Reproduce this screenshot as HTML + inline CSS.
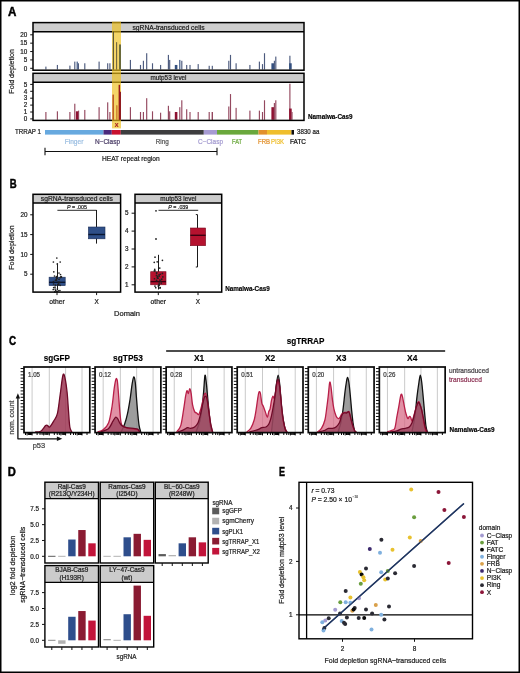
<!DOCTYPE html>
<html><head><meta charset="utf-8"><style>
html,body{margin:0;padding:0;background:#fff;width:520px;height:673px;overflow:hidden}
svg{display:block;will-change:transform}
text{font-family:"Liberation Sans", sans-serif}
</style></head><body>
<svg width="520" height="673" viewBox="0 0 520 673">
<rect x="0" y="0" width="520" height="673" fill="#fff"/>
<text x="8.10" y="15.80" font-size="12" fill="#000" text-anchor="start" font-weight="bold" textLength="8.4" lengthAdjust="spacingAndGlyphs" stroke="#000" stroke-width="0.45" >A</text>
<rect x="33.00" y="22.60" width="271.00" height="9.00" fill="#cdcdcd" stroke="none" stroke-width="1" />
<text x="168.50" y="29.90" font-size="6.8" fill="#222" text-anchor="middle" textLength="72" lengthAdjust="spacingAndGlyphs" stroke="#222" stroke-width="0.22" >sgRNA-transduced cells</text>
<rect x="45.32" y="66.62" width="1.15" height="2.88" fill="#4d5b7e" stroke="none" stroke-width="1" />
<rect x="56.82" y="64.95" width="1.15" height="4.55" fill="#4d5b7e" stroke="none" stroke-width="1" />
<rect x="69.33" y="65.62" width="1.15" height="3.88" fill="#4d5b7e" stroke="none" stroke-width="1" />
<rect x="74.22" y="61.60" width="1.15" height="7.90" fill="#4d5b7e" stroke="none" stroke-width="1" />
<rect x="76.62" y="61.60" width="1.15" height="7.90" fill="#34507f" stroke="none" stroke-width="1" />
<rect x="77.83" y="63.27" width="1.15" height="6.23" fill="#4d5b7e" stroke="none" stroke-width="1" />
<rect x="84.22" y="63.27" width="1.15" height="6.23" fill="#4d5b7e" stroke="none" stroke-width="1" />
<rect x="98.52" y="61.60" width="1.15" height="7.90" fill="#4d5b7e" stroke="none" stroke-width="1" />
<rect x="107.12" y="63.27" width="1.15" height="6.23" fill="#4d5b7e" stroke="none" stroke-width="1" />
<rect x="109.33" y="63.27" width="1.15" height="6.23" fill="#4d5b7e" stroke="none" stroke-width="1" />
<rect x="112.62" y="31.50" width="1.15" height="38.00" fill="#4d5b7e" stroke="none" stroke-width="1" />
<rect x="116.02" y="42.34" width="1.15" height="27.16" fill="#4d5b7e" stroke="none" stroke-width="1" />
<rect x="119.52" y="44.85" width="1.15" height="24.65" fill="#34507f" stroke="none" stroke-width="1" />
<rect x="129.83" y="59.92" width="1.15" height="9.58" fill="#4d5b7e" stroke="none" stroke-width="1" />
<rect x="139.93" y="64.95" width="1.15" height="4.55" fill="#4d5b7e" stroke="none" stroke-width="1" />
<rect x="142.83" y="60.76" width="1.15" height="8.74" fill="#4d5b7e" stroke="none" stroke-width="1" />
<rect x="146.12" y="53.22" width="1.15" height="16.28" fill="#4d5b7e" stroke="none" stroke-width="1" />
<rect x="151.93" y="63.27" width="1.15" height="6.23" fill="#4d5b7e" stroke="none" stroke-width="1" />
<rect x="160.03" y="64.95" width="1.15" height="4.55" fill="#4d5b7e" stroke="none" stroke-width="1" />
<rect x="167.83" y="54.90" width="1.15" height="14.60" fill="#4d5b7e" stroke="none" stroke-width="1" />
<rect x="169.12" y="59.92" width="1.15" height="9.58" fill="#4d5b7e" stroke="none" stroke-width="1" />
<rect x="174.80" y="64.95" width="2.60" height="4.55" fill="#34507f" stroke="none" stroke-width="1" />
<rect x="179.23" y="59.92" width="1.15" height="9.58" fill="#34507f" stroke="none" stroke-width="1" />
<rect x="181.23" y="60.76" width="1.15" height="8.74" fill="#4d5b7e" stroke="none" stroke-width="1" />
<rect x="186.12" y="64.95" width="1.15" height="4.55" fill="#4d5b7e" stroke="none" stroke-width="1" />
<rect x="189.43" y="64.95" width="1.15" height="4.55" fill="#4d5b7e" stroke="none" stroke-width="1" />
<rect x="197.62" y="64.11" width="1.15" height="5.39" fill="#4d5b7e" stroke="none" stroke-width="1" />
<rect x="208.62" y="65.79" width="1.15" height="3.71" fill="#4d5b7e" stroke="none" stroke-width="1" />
<rect x="211.73" y="65.79" width="1.15" height="3.71" fill="#4d5b7e" stroke="none" stroke-width="1" />
<rect x="228.23" y="60.76" width="1.15" height="8.74" fill="#4d5b7e" stroke="none" stroke-width="1" />
<rect x="229.93" y="54.90" width="1.15" height="14.60" fill="#4d5b7e" stroke="none" stroke-width="1" />
<rect x="235.53" y="63.27" width="1.15" height="6.23" fill="#4d5b7e" stroke="none" stroke-width="1" />
<rect x="249.33" y="64.95" width="1.15" height="4.55" fill="#4d5b7e" stroke="none" stroke-width="1" />
<rect x="258.82" y="61.60" width="1.15" height="7.90" fill="#4d5b7e" stroke="none" stroke-width="1" />
<rect x="261.93" y="64.11" width="1.15" height="5.39" fill="#4d5b7e" stroke="none" stroke-width="1" />
<rect x="263.93" y="53.22" width="1.15" height="16.28" fill="#4d5b7e" stroke="none" stroke-width="1" />
<rect x="271.40" y="63.27" width="2.60" height="6.23" fill="#34507f" stroke="none" stroke-width="1" />
<rect x="273.82" y="60.76" width="1.15" height="8.74" fill="#4d5b7e" stroke="none" stroke-width="1" />
<rect x="275.23" y="56.57" width="1.15" height="12.93" fill="#4d5b7e" stroke="none" stroke-width="1" />
<rect x="289.32" y="55.74" width="1.15" height="13.76" fill="#4d5b7e" stroke="none" stroke-width="1" />
<rect x="289.10" y="63.27" width="2.60" height="6.23" fill="#34507f" stroke="none" stroke-width="1" />
<rect x="33.00" y="73.30" width="271.00" height="9.00" fill="#cdcdcd" stroke="none" stroke-width="1" />
<text x="168.50" y="80.40" font-size="6.8" fill="#222" text-anchor="middle" textLength="36" lengthAdjust="spacingAndGlyphs" stroke="#222" stroke-width="0.22" >mutp53 level</text>
<rect x="45.32" y="112.00" width="1.15" height="7.80" fill="#94485f" stroke="none" stroke-width="1" />
<rect x="56.82" y="111.31" width="1.15" height="8.49" fill="#94485f" stroke="none" stroke-width="1" />
<rect x="69.33" y="112.00" width="1.15" height="7.80" fill="#94485f" stroke="none" stroke-width="1" />
<rect x="74.22" y="103.72" width="1.15" height="16.08" fill="#94485f" stroke="none" stroke-width="1" />
<rect x="75.90" y="111.31" width="2.60" height="8.49" fill="#8e1232" stroke="none" stroke-width="1" />
<rect x="78.02" y="110.62" width="1.15" height="9.18" fill="#94485f" stroke="none" stroke-width="1" />
<rect x="84.22" y="109.93" width="1.15" height="9.87" fill="#94485f" stroke="none" stroke-width="1" />
<rect x="98.52" y="107.17" width="1.15" height="12.63" fill="#94485f" stroke="none" stroke-width="1" />
<rect x="107.12" y="102.34" width="1.15" height="17.46" fill="#94485f" stroke="none" stroke-width="1" />
<rect x="109.33" y="112.00" width="1.15" height="7.80" fill="#94485f" stroke="none" stroke-width="1" />
<rect x="112.62" y="94.75" width="1.15" height="25.05" fill="#8e1232" stroke="none" stroke-width="1" />
<rect x="116.22" y="105.10" width="1.15" height="14.70" fill="#94485f" stroke="none" stroke-width="1" />
<rect x="118.62" y="84.40" width="1.15" height="35.40" fill="#8e1232" stroke="none" stroke-width="1" />
<rect x="119.62" y="91.30" width="1.15" height="28.50" fill="#8e1232" stroke="none" stroke-width="1" />
<rect x="129.83" y="107.17" width="1.15" height="12.63" fill="#94485f" stroke="none" stroke-width="1" />
<rect x="139.93" y="112.00" width="1.15" height="7.80" fill="#94485f" stroke="none" stroke-width="1" />
<rect x="142.83" y="112.00" width="1.15" height="7.80" fill="#94485f" stroke="none" stroke-width="1" />
<rect x="146.12" y="98.20" width="1.15" height="21.60" fill="#94485f" stroke="none" stroke-width="1" />
<rect x="151.93" y="111.31" width="1.15" height="8.49" fill="#94485f" stroke="none" stroke-width="1" />
<rect x="160.03" y="112.69" width="1.15" height="7.11" fill="#94485f" stroke="none" stroke-width="1" />
<rect x="167.83" y="105.79" width="1.15" height="14.01" fill="#94485f" stroke="none" stroke-width="1" />
<rect x="169.12" y="111.31" width="1.15" height="8.49" fill="#94485f" stroke="none" stroke-width="1" />
<rect x="174.80" y="112.00" width="2.60" height="7.80" fill="#8e1232" stroke="none" stroke-width="1" />
<rect x="179.23" y="107.17" width="1.15" height="12.63" fill="#94485f" stroke="none" stroke-width="1" />
<rect x="181.23" y="100.27" width="1.15" height="19.53" fill="#94485f" stroke="none" stroke-width="1" />
<rect x="186.12" y="109.24" width="1.15" height="10.56" fill="#94485f" stroke="none" stroke-width="1" />
<rect x="189.43" y="112.00" width="1.15" height="7.80" fill="#94485f" stroke="none" stroke-width="1" />
<rect x="197.62" y="112.00" width="1.15" height="7.80" fill="#94485f" stroke="none" stroke-width="1" />
<rect x="208.62" y="112.00" width="1.15" height="7.80" fill="#94485f" stroke="none" stroke-width="1" />
<rect x="211.73" y="112.00" width="1.15" height="7.80" fill="#94485f" stroke="none" stroke-width="1" />
<rect x="211.83" y="112.00" width="1.15" height="7.80" fill="#94485f" stroke="none" stroke-width="1" />
<rect x="228.23" y="106.48" width="1.15" height="13.32" fill="#94485f" stroke="none" stroke-width="1" />
<rect x="229.93" y="94.06" width="1.15" height="25.74" fill="#94485f" stroke="none" stroke-width="1" />
<rect x="235.53" y="107.86" width="1.15" height="11.94" fill="#94485f" stroke="none" stroke-width="1" />
<rect x="249.33" y="110.62" width="1.15" height="9.18" fill="#94485f" stroke="none" stroke-width="1" />
<rect x="258.82" y="110.62" width="1.15" height="9.18" fill="#94485f" stroke="none" stroke-width="1" />
<rect x="261.93" y="112.00" width="1.15" height="7.80" fill="#94485f" stroke="none" stroke-width="1" />
<rect x="263.93" y="100.27" width="1.15" height="19.53" fill="#94485f" stroke="none" stroke-width="1" />
<rect x="271.40" y="107.17" width="2.60" height="12.63" fill="#8e1232" stroke="none" stroke-width="1" />
<rect x="273.82" y="103.03" width="1.15" height="16.77" fill="#94485f" stroke="none" stroke-width="1" />
<rect x="275.23" y="100.27" width="1.15" height="19.53" fill="#94485f" stroke="none" stroke-width="1" />
<rect x="289.32" y="83.71" width="1.15" height="36.09" fill="#94485f" stroke="none" stroke-width="1" />
<rect x="289.10" y="108.55" width="2.60" height="11.25" fill="#8e1232" stroke="none" stroke-width="1" />
<rect x="291.43" y="112.00" width="1.15" height="7.80" fill="#94485f" stroke="none" stroke-width="1" />
<rect x="33.00" y="22.60" width="271.00" height="47.60" fill="none" stroke="#000" stroke-width="1.5" />
<rect x="33.00" y="73.30" width="271.00" height="47.10" fill="none" stroke="#000" stroke-width="1.5" />
<line x1="33.00" y1="31.65" x2="304.00" y2="31.65" stroke="#000" stroke-width="1.5" />
<line x1="33.00" y1="82.30" x2="304.00" y2="82.30" stroke="#000" stroke-width="1.5" />
<line x1="30.20" y1="68.30" x2="33.00" y2="68.30" stroke="#111" stroke-width="1.0" />
<text x="27.20" y="70.50" font-size="6.3" fill="#1e1e1e" text-anchor="end" stroke="#1e1e1e" stroke-width="0.22" >0</text>
<line x1="30.20" y1="59.92" x2="33.00" y2="59.92" stroke="#111" stroke-width="1.0" />
<text x="27.20" y="62.12" font-size="6.3" fill="#1e1e1e" text-anchor="end" stroke="#1e1e1e" stroke-width="0.22" >5</text>
<line x1="30.20" y1="51.55" x2="33.00" y2="51.55" stroke="#111" stroke-width="1.0" />
<text x="27.20" y="53.75" font-size="6.3" fill="#1e1e1e" text-anchor="end" stroke="#1e1e1e" stroke-width="0.22" >10</text>
<line x1="30.20" y1="43.17" x2="33.00" y2="43.17" stroke="#111" stroke-width="1.0" />
<text x="27.20" y="45.38" font-size="6.3" fill="#1e1e1e" text-anchor="end" stroke="#1e1e1e" stroke-width="0.22" >15</text>
<line x1="30.20" y1="34.80" x2="33.00" y2="34.80" stroke="#111" stroke-width="1.0" />
<text x="27.20" y="37.00" font-size="6.3" fill="#1e1e1e" text-anchor="end" stroke="#1e1e1e" stroke-width="0.22" >20</text>
<line x1="30.20" y1="118.90" x2="33.00" y2="118.90" stroke="#111" stroke-width="1.0" />
<text x="27.20" y="121.10" font-size="6.3" fill="#1e1e1e" text-anchor="end" stroke="#1e1e1e" stroke-width="0.22" >0</text>
<line x1="30.20" y1="112.00" x2="33.00" y2="112.00" stroke="#111" stroke-width="1.0" />
<text x="27.20" y="114.20" font-size="6.3" fill="#1e1e1e" text-anchor="end" stroke="#1e1e1e" stroke-width="0.22" >1</text>
<line x1="30.20" y1="105.10" x2="33.00" y2="105.10" stroke="#111" stroke-width="1.0" />
<text x="27.20" y="107.30" font-size="6.3" fill="#1e1e1e" text-anchor="end" stroke="#1e1e1e" stroke-width="0.22" >2</text>
<line x1="30.20" y1="98.20" x2="33.00" y2="98.20" stroke="#111" stroke-width="1.0" />
<text x="27.20" y="100.40" font-size="6.3" fill="#1e1e1e" text-anchor="end" stroke="#1e1e1e" stroke-width="0.22" >3</text>
<line x1="30.20" y1="91.30" x2="33.00" y2="91.30" stroke="#111" stroke-width="1.0" />
<text x="27.20" y="93.50" font-size="6.3" fill="#1e1e1e" text-anchor="end" stroke="#1e1e1e" stroke-width="0.22" >4</text>
<line x1="30.20" y1="84.40" x2="33.00" y2="84.40" stroke="#111" stroke-width="1.0" />
<text x="27.20" y="86.60" font-size="6.3" fill="#1e1e1e" text-anchor="end" stroke="#1e1e1e" stroke-width="0.22" >5</text>
<text x="14.30" y="71.40" font-size="8.0" fill="#1e1e1e" text-anchor="middle" textLength="44.5" lengthAdjust="spacingAndGlyphs" transform="rotate(-90 14.30 71.40)" stroke="#1e1e1e" stroke-width="0.22" >Fold depletion</text>
<rect x="112.00" y="21.60" width="9.00" height="106.80" fill="#efbf1a" stroke="none" stroke-width="1" fill-opacity="0.66"/>
<rect x="112.95" y="31.60" width="0.90" height="37.90" fill="#4a4a3a" stroke="none" stroke-width="1" />
<rect x="116.15" y="42.20" width="0.90" height="27.30" fill="#6a6040" stroke="none" stroke-width="1" />
<rect x="119.40" y="44.40" width="1.20" height="25.10" fill="#2f3f30" stroke="none" stroke-width="1" />
<rect x="112.70" y="94.60" width="1.00" height="25.20" fill="#b0402a" stroke="none" stroke-width="1" />
<rect x="116.45" y="105.70" width="0.90" height="14.10" fill="#d07a30" stroke="none" stroke-width="1" />
<rect x="118.75" y="85.00" width="1.30" height="34.80" fill="#9a1a22" stroke="none" stroke-width="1" />
<rect x="119.90" y="92.00" width="1.00" height="27.80" fill="#8a1020" stroke="none" stroke-width="1" />
<text x="116.50" y="127.40" font-size="5.6" fill="#a82020" text-anchor="middle" font-weight="bold" stroke="#a82020" stroke-width="0.15" >X</text>
<text x="308.00" y="119.10" font-size="6.4" fill="#000" text-anchor="start" font-weight="bold" textLength="44.5" lengthAdjust="spacingAndGlyphs" stroke="#000" stroke-width="0.15" >Namalwa-Cas9</text>
<rect x="45.00" y="130.00" width="58.50" height="4.60" fill="#67a9df" stroke="none" stroke-width="1" />
<rect x="103.50" y="130.00" width="8.30" height="4.60" fill="#4b2a7c" stroke="none" stroke-width="1" />
<rect x="111.80" y="130.00" width="9.00" height="4.60" fill="#c8102e" stroke="none" stroke-width="1" />
<rect x="120.80" y="130.00" width="83.00" height="4.60" fill="#3d3d3f" stroke="none" stroke-width="1" />
<rect x="203.80" y="130.00" width="13.20" height="4.60" fill="#a79bd3" stroke="none" stroke-width="1" />
<rect x="217.00" y="130.00" width="41.50" height="4.60" fill="#6aa83c" stroke="none" stroke-width="1" />
<rect x="258.50" y="130.00" width="8.50" height="4.60" fill="#e2902c" stroke="none" stroke-width="1" />
<rect x="267.00" y="130.00" width="24.50" height="4.60" fill="#efbe2c" stroke="none" stroke-width="1" />
<rect x="291.50" y="130.00" width="2.50" height="4.60" fill="#111" stroke="none" stroke-width="1" />
<text x="15.00" y="134.40" font-size="6.8" fill="#1e1e1e" text-anchor="start" textLength="26" lengthAdjust="spacingAndGlyphs" stroke="#1e1e1e" stroke-width="0.22" >TRRAP 1</text>
<text x="297.00" y="134.40" font-size="6.8" fill="#1e1e1e" text-anchor="start" textLength="22.4" lengthAdjust="spacingAndGlyphs" stroke="#1e1e1e" stroke-width="0.22" >3830 aa</text>
<text x="64.70" y="143.90" font-size="6.8" fill="#9cbfe2" text-anchor="start" textLength="18.700000000000003" lengthAdjust="spacingAndGlyphs" stroke="#9cbfe2" stroke-width="0.22" >Finger</text>
<text x="95.00" y="143.90" font-size="6.8" fill="#4a3c66" text-anchor="start" textLength="25" lengthAdjust="spacingAndGlyphs" stroke="#4a3c66" stroke-width="0.22" >N−Clasp</text>
<text x="155.80" y="143.90" font-size="6.8" fill="#555" text-anchor="start" textLength="13.0" lengthAdjust="spacingAndGlyphs" stroke="#555" stroke-width="0.22" >Ring</text>
<text x="198.00" y="143.90" font-size="6.8" fill="#a49bd0" text-anchor="start" textLength="25" lengthAdjust="spacingAndGlyphs" stroke="#a49bd0" stroke-width="0.22" >C−Clasp</text>
<text x="232.00" y="143.90" font-size="6.8" fill="#6aa83c" text-anchor="start" textLength="10" lengthAdjust="spacingAndGlyphs" stroke="#6aa83c" stroke-width="0.22" >FAT</text>
<text x="258.00" y="143.90" font-size="6.8" fill="#e2902c" text-anchor="start" textLength="12" lengthAdjust="spacingAndGlyphs" stroke="#e2902c" stroke-width="0.22" >FRB</text>
<text x="271.00" y="143.90" font-size="6.8" fill="#efbe2c" text-anchor="start" textLength="13" lengthAdjust="spacingAndGlyphs" stroke="#efbe2c" stroke-width="0.22" >PI3K</text>
<text x="290.00" y="143.90" font-size="6.8" fill="#111" text-anchor="start" textLength="16" lengthAdjust="spacingAndGlyphs" stroke="#111" stroke-width="0.22" >FATC</text>
<line x1="45.00" y1="151.50" x2="217.00" y2="151.50" stroke="#111" stroke-width="1.1" />
<line x1="45.00" y1="147.80" x2="45.00" y2="155.20" stroke="#111" stroke-width="1.1" />
<line x1="217.00" y1="147.80" x2="217.00" y2="155.20" stroke="#111" stroke-width="1.1" />
<text x="102.00" y="161.20" font-size="6.8" fill="#1e1e1e" text-anchor="start" textLength="57.6" lengthAdjust="spacingAndGlyphs" stroke="#1e1e1e" stroke-width="0.22" >HEAT repeat region</text>
<text x="9.80" y="187.70" font-size="12" fill="#000" text-anchor="start" font-weight="bold" textLength="6.9" lengthAdjust="spacingAndGlyphs" stroke="#000" stroke-width="0.45" >B</text>
<rect x="33.00" y="194.30" width="87.60" height="8.70" fill="#cbcbcb" stroke="none" stroke-width="1" />
<rect x="135.00" y="194.30" width="86.70" height="8.70" fill="#cbcbcb" stroke="none" stroke-width="1" />
<text x="76.80" y="201.00" font-size="6.8" fill="#222" text-anchor="middle" textLength="72" lengthAdjust="spacingAndGlyphs" stroke="#222" stroke-width="0.22" >sgRNA-transduced cells</text>
<text x="178.35" y="201.00" font-size="6.8" fill="#222" text-anchor="middle" textLength="36" lengthAdjust="spacingAndGlyphs" stroke="#222" stroke-width="0.22" >mutp53 level</text>
<line x1="96.50" y1="210.00" x2="96.50" y2="243.60" stroke="#1a1a1a" stroke-width="1.0" />
<rect x="88.40" y="227.00" width="16.60" height="11.80" fill="#2f4f88" stroke="#1c2f58" stroke-width="0.6" />
<line x1="88.40" y1="234.50" x2="105.00" y2="234.50" stroke="#0a1630" stroke-width="1.4" />
<line x1="57.50" y1="263.70" x2="57.50" y2="290.00" stroke="#1a1a1a" stroke-width="1.0" />
<rect x="49.10" y="277.20" width="16.10" height="8.40" fill="#2f4f88" stroke="#1c2f58" stroke-width="0.6" />
<line x1="49.10" y1="282.30" x2="65.20" y2="282.30" stroke="#0a1630" stroke-width="1.4" />
<circle cx="56.80" cy="258.00" r="0.85" fill="#222"/>
<circle cx="53.40" cy="262.00" r="0.85" fill="#222"/>
<circle cx="60.20" cy="262.00" r="0.85" fill="#222"/>
<circle cx="57.30" cy="263.90" r="0.85" fill="#222"/>
<circle cx="53.80" cy="271.80" r="0.85" fill="#222"/>
<circle cx="59.00" cy="273.00" r="0.85" fill="#222"/>
<circle cx="60.50" cy="274.50" r="0.85" fill="#222"/>
<circle cx="54.50" cy="276.00" r="0.85" fill="#222"/>
<circle cx="56.50" cy="276.50" r="0.85" fill="#222"/>
<circle cx="61.00" cy="276.50" r="0.85" fill="#222"/>
<circle cx="57.80" cy="285.10" r="0.85" fill="#222"/>
<circle cx="57.01" cy="278.10" r="0.85" fill="#222"/>
<circle cx="58.03" cy="284.28" r="0.85" fill="#222"/>
<circle cx="57.40" cy="289.08" r="0.85" fill="#222"/>
<circle cx="59.76" cy="282.47" r="0.85" fill="#222"/>
<circle cx="55.65" cy="290.42" r="0.85" fill="#222"/>
<circle cx="59.90" cy="290.48" r="0.85" fill="#222"/>
<circle cx="53.45" cy="281.52" r="0.85" fill="#222"/>
<circle cx="61.20" cy="277.24" r="0.85" fill="#222"/>
<circle cx="58.27" cy="282.11" r="0.85" fill="#222"/>
<circle cx="53.23" cy="289.48" r="0.85" fill="#222"/>
<circle cx="53.60" cy="283.98" r="0.85" fill="#222"/>
<circle cx="55.13" cy="289.00" r="0.85" fill="#222"/>
<circle cx="57.00" cy="291.38" r="0.85" fill="#222"/>
<circle cx="60.18" cy="285.28" r="0.85" fill="#222"/>
<circle cx="58.48" cy="284.11" r="0.85" fill="#222"/>
<circle cx="58.66" cy="284.40" r="0.85" fill="#222"/>
<circle cx="55.44" cy="285.03" r="0.85" fill="#222"/>
<circle cx="61.46" cy="277.01" r="0.85" fill="#222"/>
<circle cx="59.05" cy="279.34" r="0.85" fill="#222"/>
<circle cx="55.03" cy="287.14" r="0.85" fill="#222"/>
<circle cx="53.69" cy="287.53" r="0.85" fill="#222"/>
<circle cx="56.46" cy="280.44" r="0.85" fill="#222"/>
<circle cx="56.35" cy="279.25" r="0.85" fill="#222"/>
<circle cx="60.22" cy="277.60" r="0.85" fill="#222"/>
<circle cx="54.86" cy="291.81" r="0.85" fill="#222"/>
<circle cx="57.05" cy="278.30" r="0.85" fill="#222"/>
<circle cx="56.44" cy="277.26" r="0.85" fill="#222"/>
<circle cx="58.39" cy="290.74" r="0.85" fill="#222"/>
<circle cx="55.37" cy="280.26" r="0.85" fill="#222"/>
<line x1="57.40" y1="210.30" x2="96.50" y2="210.30" stroke="#111" stroke-width="0.9" />
<text x="77.00" y="208.50" font-size="6.2" fill="#222" text-anchor="middle" textLength="20" lengthAdjust="spacingAndGlyphs" stroke="#222" stroke-width="0.22" ><tspan font-style="italic">P</tspan> = .005</text>
<line x1="197.50" y1="214.60" x2="197.50" y2="267.00" stroke="#1a1a1a" stroke-width="1.0" />
<line x1="195.80" y1="214.60" x2="197.50" y2="214.60" stroke="#1a1a1a" stroke-width="1.0" />
<line x1="195.80" y1="267.00" x2="197.50" y2="267.00" stroke="#1a1a1a" stroke-width="1.0" />
<rect x="190.40" y="228.00" width="15.20" height="17.70" fill="#b5122f" stroke="#7a0a20" stroke-width="0.6" />
<line x1="190.40" y1="235.30" x2="205.60" y2="235.30" stroke="#3a0010" stroke-width="1.4" />
<line x1="158.50" y1="254.80" x2="158.50" y2="289.50" stroke="#1a1a1a" stroke-width="1.0" />
<rect x="150.70" y="271.70" width="15.30" height="13.10" fill="#b5122f" stroke="#7a0a20" stroke-width="0.6" />
<line x1="150.70" y1="281.60" x2="166.00" y2="281.60" stroke="#3a0010" stroke-width="1.4" />
<circle cx="159.76" cy="268.05" r="0.85" fill="#222"/>
<circle cx="157.19" cy="261.85" r="0.85" fill="#222"/>
<circle cx="154.24" cy="262.31" r="0.85" fill="#222"/>
<circle cx="154.72" cy="269.35" r="0.85" fill="#222"/>
<circle cx="155.01" cy="257.16" r="0.85" fill="#222"/>
<circle cx="162.43" cy="260.37" r="0.85" fill="#222"/>
<circle cx="157.47" cy="278.20" r="0.85" fill="#222"/>
<circle cx="154.32" cy="270.91" r="0.85" fill="#222"/>
<circle cx="156.51" cy="273.06" r="0.85" fill="#222"/>
<circle cx="154.96" cy="286.10" r="0.85" fill="#222"/>
<circle cx="161.25" cy="283.11" r="0.85" fill="#222"/>
<circle cx="159.13" cy="285.44" r="0.85" fill="#222"/>
<circle cx="157.25" cy="277.07" r="0.85" fill="#222"/>
<circle cx="154.47" cy="278.74" r="0.85" fill="#222"/>
<circle cx="155.75" cy="287.65" r="0.85" fill="#222"/>
<circle cx="157.75" cy="276.32" r="0.85" fill="#222"/>
<circle cx="159.17" cy="283.00" r="0.85" fill="#222"/>
<circle cx="156.60" cy="280.46" r="0.85" fill="#222"/>
<circle cx="160.19" cy="274.23" r="0.85" fill="#222"/>
<circle cx="159.07" cy="284.28" r="0.85" fill="#222"/>
<circle cx="161.78" cy="279.15" r="0.85" fill="#222"/>
<circle cx="156.49" cy="275.42" r="0.85" fill="#222"/>
<circle cx="154.96" cy="270.84" r="0.85" fill="#222"/>
<circle cx="160.71" cy="281.10" r="0.85" fill="#222"/>
<circle cx="158.30" cy="285.96" r="0.85" fill="#222"/>
<circle cx="159.91" cy="288.02" r="0.85" fill="#222"/>
<circle cx="159.06" cy="274.78" r="0.85" fill="#222"/>
<circle cx="156.72" cy="272.75" r="0.85" fill="#222"/>
<circle cx="159.25" cy="276.04" r="0.85" fill="#222"/>
<circle cx="158.01" cy="278.15" r="0.85" fill="#222"/>
<circle cx="162.40" cy="273.40" r="0.85" fill="#222"/>
<circle cx="159.88" cy="280.08" r="0.85" fill="#222"/>
<circle cx="160.21" cy="287.63" r="0.85" fill="#222"/>
<circle cx="162.84" cy="276.92" r="0.85" fill="#222"/>
<circle cx="156.00" cy="239.00" r="0.9" fill="#222"/>
<circle cx="156.00" cy="210.80" r="0.9" fill="#222"/>
<line x1="158.50" y1="210.30" x2="198.20" y2="210.30" stroke="#111" stroke-width="0.9" />
<text x="178.30" y="208.50" font-size="6.2" fill="#222" text-anchor="middle" textLength="20" lengthAdjust="spacingAndGlyphs" stroke="#222" stroke-width="0.22" ><tspan font-style="italic">P</tspan> = .039</text>
<rect x="33.00" y="194.30" width="87.60" height="97.80" fill="none" stroke="#000" stroke-width="1.5" />
<line x1="33.00" y1="203.00" x2="120.60" y2="203.00" stroke="#000" stroke-width="1.4" />
<rect x="135.00" y="194.30" width="86.70" height="97.80" fill="none" stroke="#000" stroke-width="1.5" />
<line x1="135.00" y1="203.00" x2="221.70" y2="203.00" stroke="#000" stroke-width="1.4" />
<line x1="30.20" y1="274.20" x2="33.00" y2="274.20" stroke="#111" stroke-width="1.0" />
<text x="27.40" y="276.40" font-size="6.3" fill="#1e1e1e" text-anchor="end" stroke="#1e1e1e" stroke-width="0.22" >5</text>
<line x1="30.20" y1="254.40" x2="33.00" y2="254.40" stroke="#111" stroke-width="1.0" />
<text x="27.40" y="256.60" font-size="6.3" fill="#1e1e1e" text-anchor="end" stroke="#1e1e1e" stroke-width="0.22" >10</text>
<line x1="30.20" y1="234.60" x2="33.00" y2="234.60" stroke="#111" stroke-width="1.0" />
<text x="27.40" y="236.80" font-size="6.3" fill="#1e1e1e" text-anchor="end" stroke="#1e1e1e" stroke-width="0.22" >15</text>
<line x1="30.20" y1="214.80" x2="33.00" y2="214.80" stroke="#111" stroke-width="1.0" />
<text x="27.40" y="217.00" font-size="6.3" fill="#1e1e1e" text-anchor="end" stroke="#1e1e1e" stroke-width="0.22" >20</text>
<line x1="131.60" y1="284.80" x2="135.00" y2="284.80" stroke="#111" stroke-width="1.0" />
<text x="128.40" y="287.00" font-size="6.3" fill="#1e1e1e" text-anchor="end" stroke="#1e1e1e" stroke-width="0.22" >1</text>
<line x1="131.60" y1="266.90" x2="135.00" y2="266.90" stroke="#111" stroke-width="1.0" />
<text x="128.40" y="269.10" font-size="6.3" fill="#1e1e1e" text-anchor="end" stroke="#1e1e1e" stroke-width="0.22" >2</text>
<line x1="131.60" y1="249.00" x2="135.00" y2="249.00" stroke="#111" stroke-width="1.0" />
<text x="128.40" y="251.20" font-size="6.3" fill="#1e1e1e" text-anchor="end" stroke="#1e1e1e" stroke-width="0.22" >3</text>
<line x1="131.60" y1="231.10" x2="135.00" y2="231.10" stroke="#111" stroke-width="1.0" />
<text x="128.40" y="233.30" font-size="6.3" fill="#1e1e1e" text-anchor="end" stroke="#1e1e1e" stroke-width="0.22" >4</text>
<line x1="131.60" y1="213.20" x2="135.00" y2="213.20" stroke="#111" stroke-width="1.0" />
<text x="128.40" y="215.40" font-size="6.3" fill="#1e1e1e" text-anchor="end" stroke="#1e1e1e" stroke-width="0.22" >5</text>
<line x1="57.00" y1="292.10" x2="57.00" y2="295.10" stroke="#111" stroke-width="1.0" />
<line x1="96.60" y1="292.10" x2="96.60" y2="295.10" stroke="#111" stroke-width="1.0" />
<line x1="158.30" y1="292.10" x2="158.30" y2="295.10" stroke="#111" stroke-width="1.0" />
<line x1="198.00" y1="292.10" x2="198.00" y2="295.10" stroke="#111" stroke-width="1.0" />
<text x="57.00" y="304.00" font-size="6.4" fill="#1e1e1e" text-anchor="middle" textLength="15.4" lengthAdjust="spacingAndGlyphs" stroke="#1e1e1e" stroke-width="0.22" >other</text>
<text x="158.30" y="304.00" font-size="6.4" fill="#1e1e1e" text-anchor="middle" textLength="15.4" lengthAdjust="spacingAndGlyphs" stroke="#1e1e1e" stroke-width="0.22" >other</text>
<text x="96.60" y="304.00" font-size="6.4" fill="#1e1e1e" text-anchor="middle" stroke="#1e1e1e" stroke-width="0.22" >X</text>
<text x="198.00" y="304.00" font-size="6.4" fill="#1e1e1e" text-anchor="middle" stroke="#1e1e1e" stroke-width="0.22" >X</text>
<text x="127.00" y="315.80" font-size="7.2" fill="#1e1e1e" text-anchor="middle" textLength="26" lengthAdjust="spacingAndGlyphs" stroke="#1e1e1e" stroke-width="0.22" >Domain</text>
<text x="13.60" y="247.50" font-size="7.8" fill="#1e1e1e" text-anchor="middle" textLength="44.5" lengthAdjust="spacingAndGlyphs" transform="rotate(-90 13.60 247.50)" stroke="#1e1e1e" stroke-width="0.22" >Fold depletion</text>
<text x="225.20" y="290.80" font-size="6.4" fill="#000" text-anchor="start" font-weight="bold" textLength="44.5" lengthAdjust="spacingAndGlyphs" stroke="#000" stroke-width="0.15" >Namalwa-Cas9</text>
<text x="9.00" y="344.70" font-size="12" fill="#000" text-anchor="start" font-weight="bold" textLength="7.1" lengthAdjust="spacingAndGlyphs" stroke="#000" stroke-width="0.45" >C</text>
<line x1="32.10" y1="367.00" x2="32.10" y2="432.60" stroke="#c4c4c4" stroke-width="0.9" />
<line x1="49.30" y1="367.00" x2="49.30" y2="432.60" stroke="#c4c4c4" stroke-width="0.9" />
<line x1="65.60" y1="367.00" x2="65.60" y2="432.60" stroke="#c4c4c4" stroke-width="0.9" />
<line x1="82.00" y1="367.00" x2="82.00" y2="432.60" stroke="#c4c4c4" stroke-width="0.9" />
<path d="M35.22,432.00 C36.14,431.87 39.03,432.27 40.76,431.20 C42.49,430.14 44.45,426.54 45.61,425.61 C46.76,424.67 46.99,425.37 47.68,425.61 C48.38,425.84 48.72,427.82 49.76,427.01 C50.80,426.19 52.65,422.93 53.92,420.71 C55.19,418.50 56.34,418.03 57.38,413.72 C58.42,409.40 59.23,401.25 60.15,394.83 C61.07,388.42 62.11,378.05 62.92,375.25 C63.73,372.46 64.30,375.25 65.00,378.05 C65.69,380.85 66.50,386.68 67.07,392.04 C67.65,397.40 68.00,404.39 68.46,410.22 C68.92,416.05 69.27,423.38 69.84,427.01 C70.42,430.64 71.58,431.17 71.92,432.00 L71.92,432.60 L35.22,432.60 Z" fill="#9c3552" fill-opacity="0.85" stroke="none"/>
<path d="M35.22,432.00 C36.14,431.87 39.03,432.27 40.76,431.20 C42.49,430.14 44.45,426.54 45.61,425.61 C46.76,424.67 46.99,425.37 47.68,425.61 C48.38,425.84 48.72,427.82 49.76,427.01 C50.80,426.19 52.65,422.93 53.92,420.71 C55.19,418.50 56.34,418.03 57.38,413.72 C58.42,409.40 59.23,401.25 60.15,394.83 C61.07,388.42 62.11,378.05 62.92,375.25 C63.73,372.46 64.30,375.25 65.00,378.05 C65.69,380.85 66.50,386.68 67.07,392.04 C67.65,397.40 68.00,404.39 68.46,410.22 C68.92,416.05 69.27,423.38 69.84,427.01 C70.42,430.64 71.58,431.17 71.92,432.00" fill="none" stroke="#6e0a28" stroke-width="1.3" stroke-linejoin="round"/>
<rect x="24.00" y="367.00" width="65.80" height="65.60" fill="none" stroke="#0a0a0a" stroke-width="1.7" />
<line x1="20.60" y1="368.50" x2="24.00" y2="368.50" stroke="#111" stroke-width="1.0" />
<line x1="20.60" y1="371.70" x2="24.00" y2="371.70" stroke="#111" stroke-width="1.0" />
<line x1="20.60" y1="374.90" x2="24.00" y2="374.90" stroke="#111" stroke-width="1.0" />
<line x1="20.60" y1="378.10" x2="24.00" y2="378.10" stroke="#111" stroke-width="1.0" />
<line x1="20.60" y1="381.30" x2="24.00" y2="381.30" stroke="#111" stroke-width="1.0" />
<line x1="20.60" y1="384.50" x2="24.00" y2="384.50" stroke="#111" stroke-width="1.0" />
<line x1="20.60" y1="387.70" x2="24.00" y2="387.70" stroke="#111" stroke-width="1.0" />
<line x1="20.60" y1="390.90" x2="24.00" y2="390.90" stroke="#111" stroke-width="1.0" />
<line x1="20.60" y1="394.10" x2="24.00" y2="394.10" stroke="#111" stroke-width="1.0" />
<line x1="20.60" y1="397.30" x2="24.00" y2="397.30" stroke="#111" stroke-width="1.0" />
<line x1="20.60" y1="400.50" x2="24.00" y2="400.50" stroke="#111" stroke-width="1.0" />
<line x1="20.60" y1="403.70" x2="24.00" y2="403.70" stroke="#111" stroke-width="1.0" />
<line x1="20.60" y1="406.90" x2="24.00" y2="406.90" stroke="#111" stroke-width="1.0" />
<line x1="20.60" y1="410.10" x2="24.00" y2="410.10" stroke="#111" stroke-width="1.0" />
<line x1="20.60" y1="413.30" x2="24.00" y2="413.30" stroke="#111" stroke-width="1.0" />
<line x1="20.60" y1="416.50" x2="24.00" y2="416.50" stroke="#111" stroke-width="1.0" />
<line x1="20.60" y1="419.70" x2="24.00" y2="419.70" stroke="#111" stroke-width="1.0" />
<line x1="20.60" y1="422.90" x2="24.00" y2="422.90" stroke="#111" stroke-width="1.0" />
<line x1="20.60" y1="426.10" x2="24.00" y2="426.10" stroke="#111" stroke-width="1.0" />
<line x1="20.60" y1="429.30" x2="24.00" y2="429.30" stroke="#111" stroke-width="1.0" />
<line x1="25.49" y1="432.60" x2="25.49" y2="435.00" stroke="#000" stroke-width="1.0" />
<line x1="27.10" y1="432.60" x2="27.10" y2="435.40" stroke="#000" stroke-width="1.0" />
<line x1="28.42" y1="432.60" x2="28.42" y2="435.00" stroke="#000" stroke-width="1.0" />
<line x1="29.53" y1="432.60" x2="29.53" y2="435.00" stroke="#000" stroke-width="1.0" />
<line x1="30.49" y1="432.60" x2="30.49" y2="435.00" stroke="#000" stroke-width="1.0" />
<line x1="31.34" y1="432.60" x2="31.34" y2="435.00" stroke="#000" stroke-width="1.0" />
<line x1="32.10" y1="432.60" x2="32.10" y2="435.40" stroke="#000" stroke-width="1.0" />
<line x1="37.10" y1="432.60" x2="37.10" y2="435.00" stroke="#000" stroke-width="1.0" />
<line x1="40.02" y1="432.60" x2="40.02" y2="435.00" stroke="#000" stroke-width="1.0" />
<line x1="42.09" y1="432.60" x2="42.09" y2="435.00" stroke="#000" stroke-width="1.0" />
<line x1="43.70" y1="432.60" x2="43.70" y2="435.40" stroke="#000" stroke-width="1.0" />
<line x1="45.02" y1="432.60" x2="45.02" y2="435.00" stroke="#000" stroke-width="1.0" />
<line x1="46.13" y1="432.60" x2="46.13" y2="435.00" stroke="#000" stroke-width="1.0" />
<line x1="47.09" y1="432.60" x2="47.09" y2="435.00" stroke="#000" stroke-width="1.0" />
<line x1="47.94" y1="432.60" x2="47.94" y2="435.00" stroke="#000" stroke-width="1.0" />
<line x1="49.30" y1="432.60" x2="49.30" y2="435.40" stroke="#000" stroke-width="1.0" />
<line x1="54.30" y1="432.60" x2="54.30" y2="435.00" stroke="#000" stroke-width="1.0" />
<line x1="57.22" y1="432.60" x2="57.22" y2="435.00" stroke="#000" stroke-width="1.0" />
<line x1="59.29" y1="432.60" x2="59.29" y2="435.00" stroke="#000" stroke-width="1.0" />
<line x1="60.90" y1="432.60" x2="60.90" y2="435.40" stroke="#000" stroke-width="1.0" />
<line x1="62.22" y1="432.60" x2="62.22" y2="435.00" stroke="#000" stroke-width="1.0" />
<line x1="63.33" y1="432.60" x2="63.33" y2="435.00" stroke="#000" stroke-width="1.0" />
<line x1="64.29" y1="432.60" x2="64.29" y2="435.00" stroke="#000" stroke-width="1.0" />
<line x1="65.14" y1="432.60" x2="65.14" y2="435.00" stroke="#000" stroke-width="1.0" />
<line x1="65.60" y1="432.60" x2="65.60" y2="435.40" stroke="#000" stroke-width="1.0" />
<line x1="70.60" y1="432.60" x2="70.60" y2="435.00" stroke="#000" stroke-width="1.0" />
<line x1="73.52" y1="432.60" x2="73.52" y2="435.00" stroke="#000" stroke-width="1.0" />
<line x1="75.59" y1="432.60" x2="75.59" y2="435.00" stroke="#000" stroke-width="1.0" />
<line x1="77.20" y1="432.60" x2="77.20" y2="435.40" stroke="#000" stroke-width="1.0" />
<line x1="78.52" y1="432.60" x2="78.52" y2="435.00" stroke="#000" stroke-width="1.0" />
<line x1="79.63" y1="432.60" x2="79.63" y2="435.00" stroke="#000" stroke-width="1.0" />
<line x1="80.59" y1="432.60" x2="80.59" y2="435.00" stroke="#000" stroke-width="1.0" />
<line x1="81.44" y1="432.60" x2="81.44" y2="435.00" stroke="#000" stroke-width="1.0" />
<line x1="82.00" y1="432.60" x2="82.00" y2="435.40" stroke="#000" stroke-width="1.0" />
<line x1="87.00" y1="432.60" x2="87.00" y2="435.00" stroke="#000" stroke-width="1.0" />
<text x="28.00" y="377.00" font-size="6.4" fill="#3a3a3a" text-anchor="start" textLength="12.0" lengthAdjust="spacingAndGlyphs" stroke="#3a3a3a" stroke-width="0.22" >1.05</text>
<text x="56.90" y="361.20" font-size="9.2" fill="#000" text-anchor="middle" font-weight="bold" textLength="26.2" lengthAdjust="spacingAndGlyphs" stroke="#000" stroke-width="0.15" >sgGFP</text>
<line x1="103.17" y1="367.00" x2="103.17" y2="432.60" stroke="#c4c4c4" stroke-width="0.9" />
<line x1="120.37" y1="367.00" x2="120.37" y2="432.60" stroke="#c4c4c4" stroke-width="0.9" />
<line x1="136.67" y1="367.00" x2="136.67" y2="432.60" stroke="#c4c4c4" stroke-width="0.9" />
<line x1="153.07" y1="367.00" x2="153.07" y2="432.60" stroke="#c4c4c4" stroke-width="0.9" />
<path d="M97.56,432.00 C98.49,431.63 101.26,431.33 103.10,429.80 C104.95,428.27 107.14,426.77 108.64,422.81 C110.14,418.85 111.18,411.74 112.11,406.02 C113.03,400.31 113.56,392.97 114.18,388.54 C114.81,384.11 115.34,380.85 115.85,379.45 C116.35,378.05 116.82,378.05 117.23,380.15 C117.65,382.25 117.92,387.03 118.34,392.04 C118.75,397.05 119.26,405.09 119.72,410.22 C120.19,415.35 120.53,420.13 121.11,422.81 C121.69,425.49 122.03,425.37 123.19,426.31 C124.34,427.24 126.30,427.94 128.03,428.40 C129.77,428.87 131.96,428.87 133.57,429.10 C135.19,429.34 136.69,429.32 137.73,429.80 C138.77,430.29 139.46,431.63 139.81,432.00 L139.81,432.60 L97.56,432.60 Z" fill="#d66a85" fill-opacity="0.74" stroke="none"/>
<path d="M121.11,431.90 C121.69,430.62 123.53,427.12 124.57,424.21 C125.61,421.29 126.42,418.61 127.34,414.42 C128.26,410.22 129.30,404.16 130.11,399.03 C130.92,393.90 131.57,387.33 132.19,383.64 C132.81,379.96 133.34,377.16 133.85,376.93 C134.36,376.70 134.82,379.03 135.24,382.25 C135.65,385.46 135.93,391.10 136.34,396.23 C136.76,401.36 137.27,408.12 137.73,413.02 C138.19,417.91 138.61,422.44 139.11,425.61 C139.62,428.77 140.50,430.93 140.78,432.00 L140.78,432.60 L121.11,432.60 Z" fill="#8c8c8c" fill-opacity="0.85" stroke="none"/>
<path d="M121.11,431.90 C121.69,430.62 123.53,427.12 124.57,424.21 C125.61,421.29 126.42,418.61 127.34,414.42 C128.26,410.22 129.30,404.16 130.11,399.03 C130.92,393.90 131.57,387.33 132.19,383.64 C132.81,379.96 133.34,377.16 133.85,376.93 C134.36,376.70 134.82,379.03 135.24,382.25 C135.65,385.46 135.93,391.10 136.34,396.23 C136.76,401.36 137.27,408.12 137.73,413.02 C138.19,417.91 138.61,422.44 139.11,425.61 C139.62,428.77 140.50,430.93 140.78,432.00" fill="none" stroke="#111" stroke-width="1.3" stroke-linejoin="round"/>
<path d="M100.33,432.00 C101.72,431.40 106.57,430.17 108.64,428.40 C110.72,426.64 111.64,423.28 112.80,421.41 C113.95,419.55 114.76,417.68 115.57,417.21 C116.38,416.75 116.95,417.68 117.65,418.61 C118.34,419.55 119.03,421.64 119.72,422.81 C120.42,423.97 120.65,424.79 121.80,425.61 C122.96,426.42 124.69,427.24 126.65,427.70 C128.61,428.17 131.73,428.17 133.57,428.40 C135.42,428.64 136.69,428.50 137.73,429.10 C138.77,429.70 139.46,431.52 139.81,432.00 L139.81,432.60 L100.33,432.60 Z" fill="#a04862" fill-opacity="0.86" stroke="none"/>
<path d="M97.56,432.00 C98.49,431.63 101.26,431.33 103.10,429.80 C104.95,428.27 107.14,426.77 108.64,422.81 C110.14,418.85 111.18,411.74 112.11,406.02 C113.03,400.31 113.56,392.97 114.18,388.54 C114.81,384.11 115.34,380.85 115.85,379.45 C116.35,378.05 116.82,378.05 117.23,380.15 C117.65,382.25 117.92,387.03 118.34,392.04 C118.75,397.05 119.26,405.09 119.72,410.22 C120.19,415.35 120.53,420.13 121.11,422.81 C121.69,425.49 122.03,425.37 123.19,426.31 C124.34,427.24 126.30,427.94 128.03,428.40 C129.77,428.87 131.96,428.87 133.57,429.10 C135.19,429.34 136.69,429.32 137.73,429.80 C138.77,430.29 139.46,431.63 139.81,432.00" fill="none" stroke="#b81f48" stroke-width="1.3" stroke-linejoin="round"/>
<path d="M100.33,432.00 C101.72,431.40 106.57,430.17 108.64,428.40 C110.72,426.64 111.64,423.28 112.80,421.41 C113.95,419.55 114.76,417.68 115.57,417.21 C116.38,416.75 116.95,417.68 117.65,418.61 C118.34,419.55 119.03,421.64 119.72,422.81 C120.42,423.97 120.65,424.79 121.80,425.61 C122.96,426.42 124.69,427.24 126.65,427.70 C128.61,428.17 131.73,428.17 133.57,428.40 C135.42,428.64 136.69,428.50 137.73,429.10 C138.77,429.70 139.46,431.52 139.81,432.00" fill="none" stroke="#6e0a28" stroke-width="1.3" stroke-linejoin="round"/>
<rect x="95.07" y="367.00" width="65.80" height="65.60" fill="none" stroke="#0a0a0a" stroke-width="1.7" />
<line x1="91.67" y1="368.50" x2="95.07" y2="368.50" stroke="#111" stroke-width="1.0" />
<line x1="91.67" y1="371.70" x2="95.07" y2="371.70" stroke="#111" stroke-width="1.0" />
<line x1="91.67" y1="374.90" x2="95.07" y2="374.90" stroke="#111" stroke-width="1.0" />
<line x1="91.67" y1="378.10" x2="95.07" y2="378.10" stroke="#111" stroke-width="1.0" />
<line x1="91.67" y1="381.30" x2="95.07" y2="381.30" stroke="#111" stroke-width="1.0" />
<line x1="91.67" y1="384.50" x2="95.07" y2="384.50" stroke="#111" stroke-width="1.0" />
<line x1="91.67" y1="387.70" x2="95.07" y2="387.70" stroke="#111" stroke-width="1.0" />
<line x1="91.67" y1="390.90" x2="95.07" y2="390.90" stroke="#111" stroke-width="1.0" />
<line x1="91.67" y1="394.10" x2="95.07" y2="394.10" stroke="#111" stroke-width="1.0" />
<line x1="91.67" y1="397.30" x2="95.07" y2="397.30" stroke="#111" stroke-width="1.0" />
<line x1="91.67" y1="400.50" x2="95.07" y2="400.50" stroke="#111" stroke-width="1.0" />
<line x1="91.67" y1="403.70" x2="95.07" y2="403.70" stroke="#111" stroke-width="1.0" />
<line x1="91.67" y1="406.90" x2="95.07" y2="406.90" stroke="#111" stroke-width="1.0" />
<line x1="91.67" y1="410.10" x2="95.07" y2="410.10" stroke="#111" stroke-width="1.0" />
<line x1="91.67" y1="413.30" x2="95.07" y2="413.30" stroke="#111" stroke-width="1.0" />
<line x1="91.67" y1="416.50" x2="95.07" y2="416.50" stroke="#111" stroke-width="1.0" />
<line x1="91.67" y1="419.70" x2="95.07" y2="419.70" stroke="#111" stroke-width="1.0" />
<line x1="91.67" y1="422.90" x2="95.07" y2="422.90" stroke="#111" stroke-width="1.0" />
<line x1="91.67" y1="426.10" x2="95.07" y2="426.10" stroke="#111" stroke-width="1.0" />
<line x1="91.67" y1="429.30" x2="95.07" y2="429.30" stroke="#111" stroke-width="1.0" />
<line x1="96.56" y1="432.60" x2="96.56" y2="435.00" stroke="#000" stroke-width="1.0" />
<line x1="98.17" y1="432.60" x2="98.17" y2="435.40" stroke="#000" stroke-width="1.0" />
<line x1="99.49" y1="432.60" x2="99.49" y2="435.00" stroke="#000" stroke-width="1.0" />
<line x1="100.60" y1="432.60" x2="100.60" y2="435.00" stroke="#000" stroke-width="1.0" />
<line x1="101.56" y1="432.60" x2="101.56" y2="435.00" stroke="#000" stroke-width="1.0" />
<line x1="102.41" y1="432.60" x2="102.41" y2="435.00" stroke="#000" stroke-width="1.0" />
<line x1="103.17" y1="432.60" x2="103.17" y2="435.40" stroke="#000" stroke-width="1.0" />
<line x1="108.17" y1="432.60" x2="108.17" y2="435.00" stroke="#000" stroke-width="1.0" />
<line x1="111.09" y1="432.60" x2="111.09" y2="435.00" stroke="#000" stroke-width="1.0" />
<line x1="113.16" y1="432.60" x2="113.16" y2="435.00" stroke="#000" stroke-width="1.0" />
<line x1="114.77" y1="432.60" x2="114.77" y2="435.40" stroke="#000" stroke-width="1.0" />
<line x1="116.09" y1="432.60" x2="116.09" y2="435.00" stroke="#000" stroke-width="1.0" />
<line x1="117.20" y1="432.60" x2="117.20" y2="435.00" stroke="#000" stroke-width="1.0" />
<line x1="118.16" y1="432.60" x2="118.16" y2="435.00" stroke="#000" stroke-width="1.0" />
<line x1="119.01" y1="432.60" x2="119.01" y2="435.00" stroke="#000" stroke-width="1.0" />
<line x1="120.37" y1="432.60" x2="120.37" y2="435.40" stroke="#000" stroke-width="1.0" />
<line x1="125.37" y1="432.60" x2="125.37" y2="435.00" stroke="#000" stroke-width="1.0" />
<line x1="128.29" y1="432.60" x2="128.29" y2="435.00" stroke="#000" stroke-width="1.0" />
<line x1="130.36" y1="432.60" x2="130.36" y2="435.00" stroke="#000" stroke-width="1.0" />
<line x1="131.97" y1="432.60" x2="131.97" y2="435.40" stroke="#000" stroke-width="1.0" />
<line x1="133.29" y1="432.60" x2="133.29" y2="435.00" stroke="#000" stroke-width="1.0" />
<line x1="134.40" y1="432.60" x2="134.40" y2="435.00" stroke="#000" stroke-width="1.0" />
<line x1="135.36" y1="432.60" x2="135.36" y2="435.00" stroke="#000" stroke-width="1.0" />
<line x1="136.21" y1="432.60" x2="136.21" y2="435.00" stroke="#000" stroke-width="1.0" />
<line x1="136.67" y1="432.60" x2="136.67" y2="435.40" stroke="#000" stroke-width="1.0" />
<line x1="141.67" y1="432.60" x2="141.67" y2="435.00" stroke="#000" stroke-width="1.0" />
<line x1="144.59" y1="432.60" x2="144.59" y2="435.00" stroke="#000" stroke-width="1.0" />
<line x1="146.66" y1="432.60" x2="146.66" y2="435.00" stroke="#000" stroke-width="1.0" />
<line x1="148.27" y1="432.60" x2="148.27" y2="435.40" stroke="#000" stroke-width="1.0" />
<line x1="149.59" y1="432.60" x2="149.59" y2="435.00" stroke="#000" stroke-width="1.0" />
<line x1="150.70" y1="432.60" x2="150.70" y2="435.00" stroke="#000" stroke-width="1.0" />
<line x1="151.66" y1="432.60" x2="151.66" y2="435.00" stroke="#000" stroke-width="1.0" />
<line x1="152.51" y1="432.60" x2="152.51" y2="435.00" stroke="#000" stroke-width="1.0" />
<line x1="153.07" y1="432.60" x2="153.07" y2="435.40" stroke="#000" stroke-width="1.0" />
<line x1="158.07" y1="432.60" x2="158.07" y2="435.00" stroke="#000" stroke-width="1.0" />
<text x="99.07" y="377.00" font-size="6.4" fill="#3a3a3a" text-anchor="start" textLength="12.0" lengthAdjust="spacingAndGlyphs" stroke="#3a3a3a" stroke-width="0.22" >0.12</text>
<text x="127.97" y="361.20" font-size="9.2" fill="#000" text-anchor="middle" font-weight="bold" textLength="29.8" lengthAdjust="spacingAndGlyphs" stroke="#000" stroke-width="0.15" >sgTP53</text>
<line x1="174.24" y1="367.00" x2="174.24" y2="432.60" stroke="#c4c4c4" stroke-width="0.9" />
<line x1="191.44" y1="367.00" x2="191.44" y2="432.60" stroke="#c4c4c4" stroke-width="0.9" />
<line x1="207.74" y1="367.00" x2="207.74" y2="432.60" stroke="#c4c4c4" stroke-width="0.9" />
<line x1="224.14" y1="367.00" x2="224.14" y2="432.60" stroke="#c4c4c4" stroke-width="0.9" />
<path d="M176.60,432.00 C177.29,430.93 179.60,429.24 180.75,425.61 C181.91,421.98 182.71,415.12 183.52,410.22 C184.33,405.32 185.02,399.50 185.60,396.23 C186.18,392.97 186.52,391.10 186.98,390.64 C187.45,390.17 187.91,393.79 188.37,393.44 C188.83,393.09 189.29,388.54 189.75,388.54 C190.22,388.54 190.68,390.75 191.14,393.44 C191.60,396.12 191.95,401.60 192.53,404.63 C193.10,407.66 193.91,410.22 194.60,411.62 C195.30,413.02 195.99,412.55 196.68,413.02 C197.37,413.48 198.07,415.12 198.76,414.42 C199.45,413.72 200.14,411.15 200.84,408.82 C201.53,406.49 202.34,402.76 202.91,400.43 C203.49,398.10 203.84,396.00 204.30,394.83 C204.76,393.67 205.22,392.74 205.68,393.44 C206.14,394.14 206.49,395.77 207.07,399.03 C207.65,402.29 208.57,408.82 209.15,413.02 C209.72,417.21 209.95,421.04 210.53,424.21 C211.11,427.37 212.26,430.70 212.61,432.00 L212.61,432.60 L176.60,432.60 Z" fill="#d66a85" fill-opacity="0.74" stroke="none"/>
<path d="M195.99,432.00 C196.68,430.00 199.10,424.34 200.14,420.01 C201.18,415.68 201.64,410.69 202.22,406.02 C202.80,401.36 203.14,397.17 203.61,392.04 C204.07,386.91 204.53,376.65 204.99,375.25 C205.45,373.85 205.91,379.68 206.38,383.64 C206.84,387.61 207.30,394.14 207.76,399.03 C208.22,403.93 208.68,408.36 209.15,413.02 C209.61,417.68 209.95,423.84 210.53,427.01 C211.11,430.17 212.26,431.17 212.61,432.00 L212.61,432.60 L195.99,432.60 Z" fill="#8c8c8c" fill-opacity="0.85" stroke="none"/>
<path d="M195.99,432.00 C196.68,430.00 199.10,424.34 200.14,420.01 C201.18,415.68 201.64,410.69 202.22,406.02 C202.80,401.36 203.14,397.17 203.61,392.04 C204.07,386.91 204.53,376.65 204.99,375.25 C205.45,373.85 205.91,379.68 206.38,383.64 C206.84,387.61 207.30,394.14 207.76,399.03 C208.22,403.93 208.68,408.36 209.15,413.02 C209.61,417.68 209.95,423.84 210.53,427.01 C211.11,430.17 212.26,431.17 212.61,432.00" fill="none" stroke="#111" stroke-width="1.3" stroke-linejoin="round"/>
<path d="M177.98,432.00 C178.91,431.63 181.91,430.52 183.52,429.80 C185.14,429.09 186.52,427.94 187.68,427.70 C188.83,427.47 189.29,428.52 190.45,428.40 C191.60,428.29 193.33,427.94 194.60,427.01 C195.87,426.07 197.03,425.14 198.07,422.81 C199.10,420.48 200.03,416.28 200.84,413.02 C201.64,409.75 202.34,405.79 202.91,403.23 C203.49,400.66 203.84,398.80 204.30,397.63 C204.76,396.47 205.22,396.00 205.68,396.23 C206.14,396.47 206.61,396.93 207.07,399.03 C207.53,401.13 207.88,404.86 208.45,408.82 C209.03,412.78 209.84,418.95 210.53,422.81 C211.22,426.67 212.26,430.47 212.61,432.00 L212.61,432.60 L177.98,432.60 Z" fill="#a04862" fill-opacity="0.86" stroke="none"/>
<path d="M176.60,432.00 C177.29,430.93 179.60,429.24 180.75,425.61 C181.91,421.98 182.71,415.12 183.52,410.22 C184.33,405.32 185.02,399.50 185.60,396.23 C186.18,392.97 186.52,391.10 186.98,390.64 C187.45,390.17 187.91,393.79 188.37,393.44 C188.83,393.09 189.29,388.54 189.75,388.54 C190.22,388.54 190.68,390.75 191.14,393.44 C191.60,396.12 191.95,401.60 192.53,404.63 C193.10,407.66 193.91,410.22 194.60,411.62 C195.30,413.02 195.99,412.55 196.68,413.02 C197.37,413.48 198.07,415.12 198.76,414.42 C199.45,413.72 200.14,411.15 200.84,408.82 C201.53,406.49 202.34,402.76 202.91,400.43 C203.49,398.10 203.84,396.00 204.30,394.83 C204.76,393.67 205.22,392.74 205.68,393.44 C206.14,394.14 206.49,395.77 207.07,399.03 C207.65,402.29 208.57,408.82 209.15,413.02 C209.72,417.21 209.95,421.04 210.53,424.21 C211.11,427.37 212.26,430.70 212.61,432.00" fill="none" stroke="#b81f48" stroke-width="1.3" stroke-linejoin="round"/>
<path d="M177.98,432.00 C178.91,431.63 181.91,430.52 183.52,429.80 C185.14,429.09 186.52,427.94 187.68,427.70 C188.83,427.47 189.29,428.52 190.45,428.40 C191.60,428.29 193.33,427.94 194.60,427.01 C195.87,426.07 197.03,425.14 198.07,422.81 C199.10,420.48 200.03,416.28 200.84,413.02 C201.64,409.75 202.34,405.79 202.91,403.23 C203.49,400.66 203.84,398.80 204.30,397.63 C204.76,396.47 205.22,396.00 205.68,396.23 C206.14,396.47 206.61,396.93 207.07,399.03 C207.53,401.13 207.88,404.86 208.45,408.82 C209.03,412.78 209.84,418.95 210.53,422.81 C211.22,426.67 212.26,430.47 212.61,432.00" fill="none" stroke="#6e0a28" stroke-width="1.3" stroke-linejoin="round"/>
<rect x="166.14" y="367.00" width="65.80" height="65.60" fill="none" stroke="#0a0a0a" stroke-width="1.7" />
<line x1="162.74" y1="368.50" x2="166.14" y2="368.50" stroke="#111" stroke-width="1.0" />
<line x1="162.74" y1="371.70" x2="166.14" y2="371.70" stroke="#111" stroke-width="1.0" />
<line x1="162.74" y1="374.90" x2="166.14" y2="374.90" stroke="#111" stroke-width="1.0" />
<line x1="162.74" y1="378.10" x2="166.14" y2="378.10" stroke="#111" stroke-width="1.0" />
<line x1="162.74" y1="381.30" x2="166.14" y2="381.30" stroke="#111" stroke-width="1.0" />
<line x1="162.74" y1="384.50" x2="166.14" y2="384.50" stroke="#111" stroke-width="1.0" />
<line x1="162.74" y1="387.70" x2="166.14" y2="387.70" stroke="#111" stroke-width="1.0" />
<line x1="162.74" y1="390.90" x2="166.14" y2="390.90" stroke="#111" stroke-width="1.0" />
<line x1="162.74" y1="394.10" x2="166.14" y2="394.10" stroke="#111" stroke-width="1.0" />
<line x1="162.74" y1="397.30" x2="166.14" y2="397.30" stroke="#111" stroke-width="1.0" />
<line x1="162.74" y1="400.50" x2="166.14" y2="400.50" stroke="#111" stroke-width="1.0" />
<line x1="162.74" y1="403.70" x2="166.14" y2="403.70" stroke="#111" stroke-width="1.0" />
<line x1="162.74" y1="406.90" x2="166.14" y2="406.90" stroke="#111" stroke-width="1.0" />
<line x1="162.74" y1="410.10" x2="166.14" y2="410.10" stroke="#111" stroke-width="1.0" />
<line x1="162.74" y1="413.30" x2="166.14" y2="413.30" stroke="#111" stroke-width="1.0" />
<line x1="162.74" y1="416.50" x2="166.14" y2="416.50" stroke="#111" stroke-width="1.0" />
<line x1="162.74" y1="419.70" x2="166.14" y2="419.70" stroke="#111" stroke-width="1.0" />
<line x1="162.74" y1="422.90" x2="166.14" y2="422.90" stroke="#111" stroke-width="1.0" />
<line x1="162.74" y1="426.10" x2="166.14" y2="426.10" stroke="#111" stroke-width="1.0" />
<line x1="162.74" y1="429.30" x2="166.14" y2="429.30" stroke="#111" stroke-width="1.0" />
<line x1="167.63" y1="432.60" x2="167.63" y2="435.00" stroke="#000" stroke-width="1.0" />
<line x1="169.24" y1="432.60" x2="169.24" y2="435.40" stroke="#000" stroke-width="1.0" />
<line x1="170.56" y1="432.60" x2="170.56" y2="435.00" stroke="#000" stroke-width="1.0" />
<line x1="171.67" y1="432.60" x2="171.67" y2="435.00" stroke="#000" stroke-width="1.0" />
<line x1="172.63" y1="432.60" x2="172.63" y2="435.00" stroke="#000" stroke-width="1.0" />
<line x1="173.48" y1="432.60" x2="173.48" y2="435.00" stroke="#000" stroke-width="1.0" />
<line x1="174.24" y1="432.60" x2="174.24" y2="435.40" stroke="#000" stroke-width="1.0" />
<line x1="179.24" y1="432.60" x2="179.24" y2="435.00" stroke="#000" stroke-width="1.0" />
<line x1="182.16" y1="432.60" x2="182.16" y2="435.00" stroke="#000" stroke-width="1.0" />
<line x1="184.23" y1="432.60" x2="184.23" y2="435.00" stroke="#000" stroke-width="1.0" />
<line x1="185.84" y1="432.60" x2="185.84" y2="435.40" stroke="#000" stroke-width="1.0" />
<line x1="187.16" y1="432.60" x2="187.16" y2="435.00" stroke="#000" stroke-width="1.0" />
<line x1="188.27" y1="432.60" x2="188.27" y2="435.00" stroke="#000" stroke-width="1.0" />
<line x1="189.23" y1="432.60" x2="189.23" y2="435.00" stroke="#000" stroke-width="1.0" />
<line x1="190.08" y1="432.60" x2="190.08" y2="435.00" stroke="#000" stroke-width="1.0" />
<line x1="191.44" y1="432.60" x2="191.44" y2="435.40" stroke="#000" stroke-width="1.0" />
<line x1="196.44" y1="432.60" x2="196.44" y2="435.00" stroke="#000" stroke-width="1.0" />
<line x1="199.36" y1="432.60" x2="199.36" y2="435.00" stroke="#000" stroke-width="1.0" />
<line x1="201.43" y1="432.60" x2="201.43" y2="435.00" stroke="#000" stroke-width="1.0" />
<line x1="203.04" y1="432.60" x2="203.04" y2="435.40" stroke="#000" stroke-width="1.0" />
<line x1="204.36" y1="432.60" x2="204.36" y2="435.00" stroke="#000" stroke-width="1.0" />
<line x1="205.47" y1="432.60" x2="205.47" y2="435.00" stroke="#000" stroke-width="1.0" />
<line x1="206.43" y1="432.60" x2="206.43" y2="435.00" stroke="#000" stroke-width="1.0" />
<line x1="207.28" y1="432.60" x2="207.28" y2="435.00" stroke="#000" stroke-width="1.0" />
<line x1="207.74" y1="432.60" x2="207.74" y2="435.40" stroke="#000" stroke-width="1.0" />
<line x1="212.74" y1="432.60" x2="212.74" y2="435.00" stroke="#000" stroke-width="1.0" />
<line x1="215.66" y1="432.60" x2="215.66" y2="435.00" stroke="#000" stroke-width="1.0" />
<line x1="217.73" y1="432.60" x2="217.73" y2="435.00" stroke="#000" stroke-width="1.0" />
<line x1="219.34" y1="432.60" x2="219.34" y2="435.40" stroke="#000" stroke-width="1.0" />
<line x1="220.66" y1="432.60" x2="220.66" y2="435.00" stroke="#000" stroke-width="1.0" />
<line x1="221.77" y1="432.60" x2="221.77" y2="435.00" stroke="#000" stroke-width="1.0" />
<line x1="222.73" y1="432.60" x2="222.73" y2="435.00" stroke="#000" stroke-width="1.0" />
<line x1="223.58" y1="432.60" x2="223.58" y2="435.00" stroke="#000" stroke-width="1.0" />
<line x1="224.14" y1="432.60" x2="224.14" y2="435.40" stroke="#000" stroke-width="1.0" />
<line x1="229.14" y1="432.60" x2="229.14" y2="435.00" stroke="#000" stroke-width="1.0" />
<text x="170.14" y="377.00" font-size="6.4" fill="#3a3a3a" text-anchor="start" textLength="12.0" lengthAdjust="spacingAndGlyphs" stroke="#3a3a3a" stroke-width="0.22" >0.28</text>
<text x="199.04" y="361.20" font-size="9.2" fill="#000" text-anchor="middle" font-weight="bold" textLength="10.3" lengthAdjust="spacingAndGlyphs" stroke="#000" stroke-width="0.15" >X1</text>
<line x1="245.31" y1="367.00" x2="245.31" y2="432.60" stroke="#c4c4c4" stroke-width="0.9" />
<line x1="262.51" y1="367.00" x2="262.51" y2="432.60" stroke="#c4c4c4" stroke-width="0.9" />
<line x1="278.81" y1="367.00" x2="278.81" y2="432.60" stroke="#c4c4c4" stroke-width="0.9" />
<line x1="295.21" y1="367.00" x2="295.21" y2="432.60" stroke="#c4c4c4" stroke-width="0.9" />
<path d="M246.56,432.00 C247.25,431.40 249.44,430.40 250.71,428.40 C251.98,426.41 253.25,423.28 254.18,420.01 C255.10,416.75 255.68,412.32 256.25,408.82 C256.83,405.32 257.18,401.83 257.64,399.03 C258.10,396.23 258.56,392.97 259.02,392.04 C259.49,391.10 259.95,391.57 260.41,393.44 C260.87,395.30 261.33,401.13 261.79,403.23 C262.26,405.32 262.60,404.63 263.18,406.02 C263.76,407.42 264.56,409.75 265.26,411.62 C265.95,413.48 266.76,417.21 267.33,417.21 C267.91,417.21 268.26,413.02 268.72,411.62 C269.18,410.22 269.64,410.69 270.10,408.82 C270.57,406.96 271.03,402.53 271.49,400.43 C271.95,398.33 272.41,396.58 272.87,396.23 C273.34,395.88 273.80,399.03 274.26,398.33 C274.72,397.63 275.18,394.48 275.64,392.04 C276.11,389.59 276.57,385.28 277.03,383.64 C277.49,382.01 277.95,381.55 278.41,382.25 C278.88,382.95 279.34,384.34 279.80,387.84 C280.26,391.34 280.72,398.33 281.19,403.23 C281.65,408.12 281.99,413.25 282.57,417.21 C283.15,421.18 283.96,424.54 284.65,427.01 C285.34,429.47 286.38,431.17 286.73,432.00 L286.73,432.60 L246.56,432.60 Z" fill="#d66a85" fill-opacity="0.74" stroke="none"/>
<path d="M271.49,432.00 C271.95,427.67 273.45,413.85 274.26,406.02 C275.07,398.20 275.69,390.17 276.34,385.04 C276.98,379.91 277.56,375.25 278.14,375.25 C278.72,375.25 279.18,379.22 279.80,385.04 C280.42,390.87 281.07,403.23 281.88,410.22 C282.69,417.21 283.84,423.38 284.65,427.01 C285.46,430.64 286.38,431.17 286.73,432.00 L286.73,432.60 L271.49,432.60 Z" fill="#8c8c8c" fill-opacity="0.85" stroke="none"/>
<path d="M271.49,432.00 C271.95,427.67 273.45,413.85 274.26,406.02 C275.07,398.20 275.69,390.17 276.34,385.04 C276.98,379.91 277.56,375.25 278.14,375.25 C278.72,375.25 279.18,379.22 279.80,385.04 C280.42,390.87 281.07,403.23 281.88,410.22 C282.69,417.21 283.84,423.38 284.65,427.01 C285.46,430.64 286.38,431.17 286.73,432.00" fill="none" stroke="#111" stroke-width="1.3" stroke-linejoin="round"/>
<path d="M249.33,432.00 C250.25,431.75 253.25,430.98 254.87,430.50 C256.49,430.02 257.87,429.57 259.02,429.10 C260.18,428.64 260.64,428.05 261.79,427.70 C262.95,427.35 264.80,427.59 265.95,427.01 C267.10,426.42 267.91,425.61 268.72,424.21 C269.53,422.81 270.10,421.18 270.80,418.61 C271.49,416.05 272.18,412.55 272.87,408.82 C273.57,405.09 274.38,400.20 274.95,396.23 C275.53,392.27 275.88,387.84 276.34,385.04 C276.80,382.25 277.26,379.91 277.72,379.45 C278.18,378.98 278.65,379.68 279.11,382.25 C279.57,384.81 280.03,390.41 280.49,394.83 C280.95,399.26 281.42,404.63 281.88,408.82 C282.34,413.02 282.69,416.51 283.26,420.01 C283.84,423.51 284.65,427.80 285.34,429.80 C286.03,431.80 287.07,431.63 287.42,432.00 L287.42,432.60 L249.33,432.60 Z" fill="#a04862" fill-opacity="0.86" stroke="none"/>
<path d="M246.56,432.00 C247.25,431.40 249.44,430.40 250.71,428.40 C251.98,426.41 253.25,423.28 254.18,420.01 C255.10,416.75 255.68,412.32 256.25,408.82 C256.83,405.32 257.18,401.83 257.64,399.03 C258.10,396.23 258.56,392.97 259.02,392.04 C259.49,391.10 259.95,391.57 260.41,393.44 C260.87,395.30 261.33,401.13 261.79,403.23 C262.26,405.32 262.60,404.63 263.18,406.02 C263.76,407.42 264.56,409.75 265.26,411.62 C265.95,413.48 266.76,417.21 267.33,417.21 C267.91,417.21 268.26,413.02 268.72,411.62 C269.18,410.22 269.64,410.69 270.10,408.82 C270.57,406.96 271.03,402.53 271.49,400.43 C271.95,398.33 272.41,396.58 272.87,396.23 C273.34,395.88 273.80,399.03 274.26,398.33 C274.72,397.63 275.18,394.48 275.64,392.04 C276.11,389.59 276.57,385.28 277.03,383.64 C277.49,382.01 277.95,381.55 278.41,382.25 C278.88,382.95 279.34,384.34 279.80,387.84 C280.26,391.34 280.72,398.33 281.19,403.23 C281.65,408.12 281.99,413.25 282.57,417.21 C283.15,421.18 283.96,424.54 284.65,427.01 C285.34,429.47 286.38,431.17 286.73,432.00" fill="none" stroke="#b81f48" stroke-width="1.3" stroke-linejoin="round"/>
<path d="M249.33,432.00 C250.25,431.75 253.25,430.98 254.87,430.50 C256.49,430.02 257.87,429.57 259.02,429.10 C260.18,428.64 260.64,428.05 261.79,427.70 C262.95,427.35 264.80,427.59 265.95,427.01 C267.10,426.42 267.91,425.61 268.72,424.21 C269.53,422.81 270.10,421.18 270.80,418.61 C271.49,416.05 272.18,412.55 272.87,408.82 C273.57,405.09 274.38,400.20 274.95,396.23 C275.53,392.27 275.88,387.84 276.34,385.04 C276.80,382.25 277.26,379.91 277.72,379.45 C278.18,378.98 278.65,379.68 279.11,382.25 C279.57,384.81 280.03,390.41 280.49,394.83 C280.95,399.26 281.42,404.63 281.88,408.82 C282.34,413.02 282.69,416.51 283.26,420.01 C283.84,423.51 284.65,427.80 285.34,429.80 C286.03,431.80 287.07,431.63 287.42,432.00" fill="none" stroke="#6e0a28" stroke-width="1.3" stroke-linejoin="round"/>
<rect x="237.21" y="367.00" width="65.80" height="65.60" fill="none" stroke="#0a0a0a" stroke-width="1.7" />
<line x1="233.81" y1="368.50" x2="237.21" y2="368.50" stroke="#111" stroke-width="1.0" />
<line x1="233.81" y1="371.70" x2="237.21" y2="371.70" stroke="#111" stroke-width="1.0" />
<line x1="233.81" y1="374.90" x2="237.21" y2="374.90" stroke="#111" stroke-width="1.0" />
<line x1="233.81" y1="378.10" x2="237.21" y2="378.10" stroke="#111" stroke-width="1.0" />
<line x1="233.81" y1="381.30" x2="237.21" y2="381.30" stroke="#111" stroke-width="1.0" />
<line x1="233.81" y1="384.50" x2="237.21" y2="384.50" stroke="#111" stroke-width="1.0" />
<line x1="233.81" y1="387.70" x2="237.21" y2="387.70" stroke="#111" stroke-width="1.0" />
<line x1="233.81" y1="390.90" x2="237.21" y2="390.90" stroke="#111" stroke-width="1.0" />
<line x1="233.81" y1="394.10" x2="237.21" y2="394.10" stroke="#111" stroke-width="1.0" />
<line x1="233.81" y1="397.30" x2="237.21" y2="397.30" stroke="#111" stroke-width="1.0" />
<line x1="233.81" y1="400.50" x2="237.21" y2="400.50" stroke="#111" stroke-width="1.0" />
<line x1="233.81" y1="403.70" x2="237.21" y2="403.70" stroke="#111" stroke-width="1.0" />
<line x1="233.81" y1="406.90" x2="237.21" y2="406.90" stroke="#111" stroke-width="1.0" />
<line x1="233.81" y1="410.10" x2="237.21" y2="410.10" stroke="#111" stroke-width="1.0" />
<line x1="233.81" y1="413.30" x2="237.21" y2="413.30" stroke="#111" stroke-width="1.0" />
<line x1="233.81" y1="416.50" x2="237.21" y2="416.50" stroke="#111" stroke-width="1.0" />
<line x1="233.81" y1="419.70" x2="237.21" y2="419.70" stroke="#111" stroke-width="1.0" />
<line x1="233.81" y1="422.90" x2="237.21" y2="422.90" stroke="#111" stroke-width="1.0" />
<line x1="233.81" y1="426.10" x2="237.21" y2="426.10" stroke="#111" stroke-width="1.0" />
<line x1="233.81" y1="429.30" x2="237.21" y2="429.30" stroke="#111" stroke-width="1.0" />
<line x1="238.70" y1="432.60" x2="238.70" y2="435.00" stroke="#000" stroke-width="1.0" />
<line x1="240.31" y1="432.60" x2="240.31" y2="435.40" stroke="#000" stroke-width="1.0" />
<line x1="241.63" y1="432.60" x2="241.63" y2="435.00" stroke="#000" stroke-width="1.0" />
<line x1="242.74" y1="432.60" x2="242.74" y2="435.00" stroke="#000" stroke-width="1.0" />
<line x1="243.70" y1="432.60" x2="243.70" y2="435.00" stroke="#000" stroke-width="1.0" />
<line x1="244.55" y1="432.60" x2="244.55" y2="435.00" stroke="#000" stroke-width="1.0" />
<line x1="245.31" y1="432.60" x2="245.31" y2="435.40" stroke="#000" stroke-width="1.0" />
<line x1="250.31" y1="432.60" x2="250.31" y2="435.00" stroke="#000" stroke-width="1.0" />
<line x1="253.23" y1="432.60" x2="253.23" y2="435.00" stroke="#000" stroke-width="1.0" />
<line x1="255.30" y1="432.60" x2="255.30" y2="435.00" stroke="#000" stroke-width="1.0" />
<line x1="256.91" y1="432.60" x2="256.91" y2="435.40" stroke="#000" stroke-width="1.0" />
<line x1="258.23" y1="432.60" x2="258.23" y2="435.00" stroke="#000" stroke-width="1.0" />
<line x1="259.34" y1="432.60" x2="259.34" y2="435.00" stroke="#000" stroke-width="1.0" />
<line x1="260.30" y1="432.60" x2="260.30" y2="435.00" stroke="#000" stroke-width="1.0" />
<line x1="261.15" y1="432.60" x2="261.15" y2="435.00" stroke="#000" stroke-width="1.0" />
<line x1="262.51" y1="432.60" x2="262.51" y2="435.40" stroke="#000" stroke-width="1.0" />
<line x1="267.51" y1="432.60" x2="267.51" y2="435.00" stroke="#000" stroke-width="1.0" />
<line x1="270.43" y1="432.60" x2="270.43" y2="435.00" stroke="#000" stroke-width="1.0" />
<line x1="272.50" y1="432.60" x2="272.50" y2="435.00" stroke="#000" stroke-width="1.0" />
<line x1="274.11" y1="432.60" x2="274.11" y2="435.40" stroke="#000" stroke-width="1.0" />
<line x1="275.43" y1="432.60" x2="275.43" y2="435.00" stroke="#000" stroke-width="1.0" />
<line x1="276.54" y1="432.60" x2="276.54" y2="435.00" stroke="#000" stroke-width="1.0" />
<line x1="277.50" y1="432.60" x2="277.50" y2="435.00" stroke="#000" stroke-width="1.0" />
<line x1="278.35" y1="432.60" x2="278.35" y2="435.00" stroke="#000" stroke-width="1.0" />
<line x1="278.81" y1="432.60" x2="278.81" y2="435.40" stroke="#000" stroke-width="1.0" />
<line x1="283.81" y1="432.60" x2="283.81" y2="435.00" stroke="#000" stroke-width="1.0" />
<line x1="286.73" y1="432.60" x2="286.73" y2="435.00" stroke="#000" stroke-width="1.0" />
<line x1="288.80" y1="432.60" x2="288.80" y2="435.00" stroke="#000" stroke-width="1.0" />
<line x1="290.41" y1="432.60" x2="290.41" y2="435.40" stroke="#000" stroke-width="1.0" />
<line x1="291.73" y1="432.60" x2="291.73" y2="435.00" stroke="#000" stroke-width="1.0" />
<line x1="292.84" y1="432.60" x2="292.84" y2="435.00" stroke="#000" stroke-width="1.0" />
<line x1="293.80" y1="432.60" x2="293.80" y2="435.00" stroke="#000" stroke-width="1.0" />
<line x1="294.65" y1="432.60" x2="294.65" y2="435.00" stroke="#000" stroke-width="1.0" />
<line x1="295.21" y1="432.60" x2="295.21" y2="435.40" stroke="#000" stroke-width="1.0" />
<line x1="300.21" y1="432.60" x2="300.21" y2="435.00" stroke="#000" stroke-width="1.0" />
<text x="241.21" y="377.00" font-size="6.4" fill="#3a3a3a" text-anchor="start" textLength="12.0" lengthAdjust="spacingAndGlyphs" stroke="#3a3a3a" stroke-width="0.22" >0.51</text>
<text x="270.11" y="361.20" font-size="9.2" fill="#000" text-anchor="middle" font-weight="bold" textLength="10.3" lengthAdjust="spacingAndGlyphs" stroke="#000" stroke-width="0.15" >X2</text>
<line x1="316.38" y1="367.00" x2="316.38" y2="432.60" stroke="#c4c4c4" stroke-width="0.9" />
<line x1="333.58" y1="367.00" x2="333.58" y2="432.60" stroke="#c4c4c4" stroke-width="0.9" />
<line x1="349.88" y1="367.00" x2="349.88" y2="432.60" stroke="#c4c4c4" stroke-width="0.9" />
<line x1="366.28" y1="367.00" x2="366.28" y2="432.60" stroke="#c4c4c4" stroke-width="0.9" />
<path d="M317.28,432.00 C317.98,431.40 320.17,430.40 321.44,428.40 C322.71,426.41 323.98,423.74 324.90,420.01 C325.82,416.28 326.40,410.22 326.98,406.02 C327.56,401.83 327.90,398.80 328.36,394.83 C328.82,390.87 329.29,383.41 329.75,382.25 C330.21,381.08 330.67,384.81 331.13,387.84 C331.59,390.87 332.06,396.93 332.52,400.43 C332.98,403.93 333.33,406.26 333.90,408.82 C334.48,411.39 335.40,414.30 335.98,415.82 C336.56,417.33 336.90,417.45 337.37,417.91 C337.83,418.38 338.29,418.73 338.75,418.61 C339.21,418.50 339.67,417.91 340.14,417.21 C340.60,416.51 341.06,415.12 341.52,414.42 C341.98,413.72 342.33,413.37 342.91,413.02 C343.48,412.67 344.18,412.44 344.98,412.32 C345.79,412.20 347.06,412.44 347.75,412.32 C348.45,412.20 348.68,410.80 349.14,411.62 C349.60,412.44 349.95,414.88 350.52,417.21 C351.10,419.55 351.91,423.28 352.60,425.61 C353.29,427.94 354.10,430.14 354.68,431.20 C355.26,432.27 355.83,431.87 356.06,432.00 L356.06,432.60 L317.28,432.60 Z" fill="#d66a85" fill-opacity="0.74" stroke="none"/>
<path d="M338.06,432.00 C338.52,430.47 340.02,426.44 340.83,422.81 C341.64,419.18 342.21,415.35 342.91,410.22 C343.60,405.09 344.41,396.70 344.98,392.04 C345.56,387.37 345.95,384.69 346.37,382.25 C346.78,379.80 347.06,377.35 347.48,377.35 C347.89,377.35 348.40,379.33 348.86,382.25 C349.32,385.16 349.79,390.17 350.25,394.83 C350.71,399.50 351.17,405.56 351.63,410.22 C352.09,414.88 352.51,419.31 353.02,422.81 C353.52,426.31 354.17,429.67 354.68,431.20 C355.19,432.73 355.83,431.87 356.06,432.00 L356.06,432.60 L338.06,432.60 Z" fill="#8c8c8c" fill-opacity="0.85" stroke="none"/>
<path d="M338.06,432.00 C338.52,430.47 340.02,426.44 340.83,422.81 C341.64,419.18 342.21,415.35 342.91,410.22 C343.60,405.09 344.41,396.70 344.98,392.04 C345.56,387.37 345.95,384.69 346.37,382.25 C346.78,379.80 347.06,377.35 347.48,377.35 C347.89,377.35 348.40,379.33 348.86,382.25 C349.32,385.16 349.79,390.17 350.25,394.83 C350.71,399.50 351.17,405.56 351.63,410.22 C352.09,414.88 352.51,419.31 353.02,422.81 C353.52,426.31 354.17,429.67 354.68,431.20 C355.19,432.73 355.83,431.87 356.06,432.00" fill="none" stroke="#111" stroke-width="1.3" stroke-linejoin="round"/>
<path d="M318.67,432.00 C319.59,431.75 322.59,431.10 324.21,430.50 C325.82,429.90 326.98,428.75 328.36,428.40 C329.75,428.05 331.25,428.64 332.52,428.40 C333.79,428.17 334.83,427.94 335.98,427.01 C337.14,426.07 338.52,424.67 339.44,422.81 C340.37,420.94 340.83,417.45 341.52,415.82 C342.21,414.18 342.79,413.48 343.60,413.02 C344.41,412.55 345.56,413.25 346.37,413.02 C347.18,412.78 347.87,411.39 348.45,411.62 C349.02,411.85 349.37,413.02 349.83,414.42 C350.29,415.82 350.64,417.91 351.22,420.01 C351.79,422.11 352.60,425.02 353.29,427.01 C353.99,428.99 354.79,431.07 355.37,431.90 C355.95,432.73 356.53,431.98 356.76,432.00 L356.76,432.60 L318.67,432.60 Z" fill="#a04862" fill-opacity="0.86" stroke="none"/>
<path d="M317.28,432.00 C317.98,431.40 320.17,430.40 321.44,428.40 C322.71,426.41 323.98,423.74 324.90,420.01 C325.82,416.28 326.40,410.22 326.98,406.02 C327.56,401.83 327.90,398.80 328.36,394.83 C328.82,390.87 329.29,383.41 329.75,382.25 C330.21,381.08 330.67,384.81 331.13,387.84 C331.59,390.87 332.06,396.93 332.52,400.43 C332.98,403.93 333.33,406.26 333.90,408.82 C334.48,411.39 335.40,414.30 335.98,415.82 C336.56,417.33 336.90,417.45 337.37,417.91 C337.83,418.38 338.29,418.73 338.75,418.61 C339.21,418.50 339.67,417.91 340.14,417.21 C340.60,416.51 341.06,415.12 341.52,414.42 C341.98,413.72 342.33,413.37 342.91,413.02 C343.48,412.67 344.18,412.44 344.98,412.32 C345.79,412.20 347.06,412.44 347.75,412.32 C348.45,412.20 348.68,410.80 349.14,411.62 C349.60,412.44 349.95,414.88 350.52,417.21 C351.10,419.55 351.91,423.28 352.60,425.61 C353.29,427.94 354.10,430.14 354.68,431.20 C355.26,432.27 355.83,431.87 356.06,432.00" fill="none" stroke="#b81f48" stroke-width="1.3" stroke-linejoin="round"/>
<path d="M318.67,432.00 C319.59,431.75 322.59,431.10 324.21,430.50 C325.82,429.90 326.98,428.75 328.36,428.40 C329.75,428.05 331.25,428.64 332.52,428.40 C333.79,428.17 334.83,427.94 335.98,427.01 C337.14,426.07 338.52,424.67 339.44,422.81 C340.37,420.94 340.83,417.45 341.52,415.82 C342.21,414.18 342.79,413.48 343.60,413.02 C344.41,412.55 345.56,413.25 346.37,413.02 C347.18,412.78 347.87,411.39 348.45,411.62 C349.02,411.85 349.37,413.02 349.83,414.42 C350.29,415.82 350.64,417.91 351.22,420.01 C351.79,422.11 352.60,425.02 353.29,427.01 C353.99,428.99 354.79,431.07 355.37,431.90 C355.95,432.73 356.53,431.98 356.76,432.00" fill="none" stroke="#6e0a28" stroke-width="1.3" stroke-linejoin="round"/>
<rect x="308.28" y="367.00" width="65.80" height="65.60" fill="none" stroke="#0a0a0a" stroke-width="1.7" />
<line x1="304.88" y1="368.50" x2="308.28" y2="368.50" stroke="#111" stroke-width="1.0" />
<line x1="304.88" y1="371.70" x2="308.28" y2="371.70" stroke="#111" stroke-width="1.0" />
<line x1="304.88" y1="374.90" x2="308.28" y2="374.90" stroke="#111" stroke-width="1.0" />
<line x1="304.88" y1="378.10" x2="308.28" y2="378.10" stroke="#111" stroke-width="1.0" />
<line x1="304.88" y1="381.30" x2="308.28" y2="381.30" stroke="#111" stroke-width="1.0" />
<line x1="304.88" y1="384.50" x2="308.28" y2="384.50" stroke="#111" stroke-width="1.0" />
<line x1="304.88" y1="387.70" x2="308.28" y2="387.70" stroke="#111" stroke-width="1.0" />
<line x1="304.88" y1="390.90" x2="308.28" y2="390.90" stroke="#111" stroke-width="1.0" />
<line x1="304.88" y1="394.10" x2="308.28" y2="394.10" stroke="#111" stroke-width="1.0" />
<line x1="304.88" y1="397.30" x2="308.28" y2="397.30" stroke="#111" stroke-width="1.0" />
<line x1="304.88" y1="400.50" x2="308.28" y2="400.50" stroke="#111" stroke-width="1.0" />
<line x1="304.88" y1="403.70" x2="308.28" y2="403.70" stroke="#111" stroke-width="1.0" />
<line x1="304.88" y1="406.90" x2="308.28" y2="406.90" stroke="#111" stroke-width="1.0" />
<line x1="304.88" y1="410.10" x2="308.28" y2="410.10" stroke="#111" stroke-width="1.0" />
<line x1="304.88" y1="413.30" x2="308.28" y2="413.30" stroke="#111" stroke-width="1.0" />
<line x1="304.88" y1="416.50" x2="308.28" y2="416.50" stroke="#111" stroke-width="1.0" />
<line x1="304.88" y1="419.70" x2="308.28" y2="419.70" stroke="#111" stroke-width="1.0" />
<line x1="304.88" y1="422.90" x2="308.28" y2="422.90" stroke="#111" stroke-width="1.0" />
<line x1="304.88" y1="426.10" x2="308.28" y2="426.10" stroke="#111" stroke-width="1.0" />
<line x1="304.88" y1="429.30" x2="308.28" y2="429.30" stroke="#111" stroke-width="1.0" />
<line x1="309.77" y1="432.60" x2="309.77" y2="435.00" stroke="#000" stroke-width="1.0" />
<line x1="311.38" y1="432.60" x2="311.38" y2="435.40" stroke="#000" stroke-width="1.0" />
<line x1="312.70" y1="432.60" x2="312.70" y2="435.00" stroke="#000" stroke-width="1.0" />
<line x1="313.81" y1="432.60" x2="313.81" y2="435.00" stroke="#000" stroke-width="1.0" />
<line x1="314.77" y1="432.60" x2="314.77" y2="435.00" stroke="#000" stroke-width="1.0" />
<line x1="315.62" y1="432.60" x2="315.62" y2="435.00" stroke="#000" stroke-width="1.0" />
<line x1="316.38" y1="432.60" x2="316.38" y2="435.40" stroke="#000" stroke-width="1.0" />
<line x1="321.38" y1="432.60" x2="321.38" y2="435.00" stroke="#000" stroke-width="1.0" />
<line x1="324.30" y1="432.60" x2="324.30" y2="435.00" stroke="#000" stroke-width="1.0" />
<line x1="326.37" y1="432.60" x2="326.37" y2="435.00" stroke="#000" stroke-width="1.0" />
<line x1="327.98" y1="432.60" x2="327.98" y2="435.40" stroke="#000" stroke-width="1.0" />
<line x1="329.30" y1="432.60" x2="329.30" y2="435.00" stroke="#000" stroke-width="1.0" />
<line x1="330.41" y1="432.60" x2="330.41" y2="435.00" stroke="#000" stroke-width="1.0" />
<line x1="331.37" y1="432.60" x2="331.37" y2="435.00" stroke="#000" stroke-width="1.0" />
<line x1="332.22" y1="432.60" x2="332.22" y2="435.00" stroke="#000" stroke-width="1.0" />
<line x1="333.58" y1="432.60" x2="333.58" y2="435.40" stroke="#000" stroke-width="1.0" />
<line x1="338.58" y1="432.60" x2="338.58" y2="435.00" stroke="#000" stroke-width="1.0" />
<line x1="341.50" y1="432.60" x2="341.50" y2="435.00" stroke="#000" stroke-width="1.0" />
<line x1="343.57" y1="432.60" x2="343.57" y2="435.00" stroke="#000" stroke-width="1.0" />
<line x1="345.18" y1="432.60" x2="345.18" y2="435.40" stroke="#000" stroke-width="1.0" />
<line x1="346.50" y1="432.60" x2="346.50" y2="435.00" stroke="#000" stroke-width="1.0" />
<line x1="347.61" y1="432.60" x2="347.61" y2="435.00" stroke="#000" stroke-width="1.0" />
<line x1="348.57" y1="432.60" x2="348.57" y2="435.00" stroke="#000" stroke-width="1.0" />
<line x1="349.42" y1="432.60" x2="349.42" y2="435.00" stroke="#000" stroke-width="1.0" />
<line x1="349.88" y1="432.60" x2="349.88" y2="435.40" stroke="#000" stroke-width="1.0" />
<line x1="354.88" y1="432.60" x2="354.88" y2="435.00" stroke="#000" stroke-width="1.0" />
<line x1="357.80" y1="432.60" x2="357.80" y2="435.00" stroke="#000" stroke-width="1.0" />
<line x1="359.87" y1="432.60" x2="359.87" y2="435.00" stroke="#000" stroke-width="1.0" />
<line x1="361.48" y1="432.60" x2="361.48" y2="435.40" stroke="#000" stroke-width="1.0" />
<line x1="362.80" y1="432.60" x2="362.80" y2="435.00" stroke="#000" stroke-width="1.0" />
<line x1="363.91" y1="432.60" x2="363.91" y2="435.00" stroke="#000" stroke-width="1.0" />
<line x1="364.87" y1="432.60" x2="364.87" y2="435.00" stroke="#000" stroke-width="1.0" />
<line x1="365.72" y1="432.60" x2="365.72" y2="435.00" stroke="#000" stroke-width="1.0" />
<line x1="366.28" y1="432.60" x2="366.28" y2="435.40" stroke="#000" stroke-width="1.0" />
<line x1="371.28" y1="432.60" x2="371.28" y2="435.00" stroke="#000" stroke-width="1.0" />
<text x="312.28" y="377.00" font-size="6.4" fill="#3a3a3a" text-anchor="start" textLength="12.0" lengthAdjust="spacingAndGlyphs" stroke="#3a3a3a" stroke-width="0.22" >0.20</text>
<text x="341.18" y="361.20" font-size="9.2" fill="#000" text-anchor="middle" font-weight="bold" textLength="10.3" lengthAdjust="spacingAndGlyphs" stroke="#000" stroke-width="0.15" >X3</text>
<line x1="387.45" y1="367.00" x2="387.45" y2="432.60" stroke="#c4c4c4" stroke-width="0.9" />
<line x1="404.65" y1="367.00" x2="404.65" y2="432.60" stroke="#c4c4c4" stroke-width="0.9" />
<line x1="420.95" y1="367.00" x2="420.95" y2="432.60" stroke="#c4c4c4" stroke-width="0.9" />
<line x1="437.35" y1="367.00" x2="437.35" y2="432.60" stroke="#c4c4c4" stroke-width="0.9" />
<path d="M387.11,432.00 C387.80,431.75 389.99,431.10 391.26,430.50 C392.53,429.90 393.80,430.62 394.72,428.40 C395.65,426.19 396.11,420.94 396.80,417.21 C397.49,413.48 398.19,409.75 398.88,406.02 C399.57,402.29 400.38,396.47 400.96,394.83 C401.53,393.20 401.88,394.83 402.34,396.23 C402.80,397.63 403.15,400.43 403.73,403.23 C404.30,406.02 405.11,410.45 405.80,413.02 C406.50,415.58 407.30,418.03 407.88,418.61 C408.46,419.20 408.81,416.75 409.27,416.51 C409.73,416.28 410.19,416.40 410.65,417.21 C411.11,418.03 411.58,421.41 412.04,421.41 C412.50,421.41 412.73,419.55 413.42,417.21 C414.11,414.88 415.38,409.99 416.19,407.42 C417.00,404.86 417.69,402.53 418.27,401.83 C418.85,401.13 419.08,401.83 419.65,403.23 C420.23,404.63 421.04,406.96 421.73,410.22 C422.42,413.48 423.12,419.31 423.81,422.81 C424.50,426.31 425.31,429.67 425.89,431.20 C426.46,432.73 427.04,431.87 427.27,432.00 L427.27,432.60 L387.11,432.60 Z" fill="#d66a85" fill-opacity="0.74" stroke="none"/>
<path d="M412.04,431.20 C412.50,428.87 414.00,422.81 414.81,417.21 C415.62,411.62 416.19,403.46 416.88,397.63 C417.58,391.80 418.39,385.98 418.96,382.25 C419.54,378.52 419.89,375.25 420.35,375.25 C420.81,375.25 421.27,378.75 421.73,382.25 C422.19,385.74 422.66,391.34 423.12,396.23 C423.58,401.13 424.04,406.72 424.50,411.62 C424.96,416.51 425.43,422.21 425.89,425.61 C426.35,429.00 427.04,430.93 427.27,432.00 L427.27,432.60 L412.04,432.60 Z" fill="#8c8c8c" fill-opacity="0.85" stroke="none"/>
<path d="M412.04,431.20 C412.50,428.87 414.00,422.81 414.81,417.21 C415.62,411.62 416.19,403.46 416.88,397.63 C417.58,391.80 418.39,385.98 418.96,382.25 C419.54,378.52 419.89,375.25 420.35,375.25 C420.81,375.25 421.27,378.75 421.73,382.25 C422.19,385.74 422.66,391.34 423.12,396.23 C423.58,401.13 424.04,406.72 424.50,411.62 C424.96,416.51 425.43,422.21 425.89,425.61 C426.35,429.00 427.04,430.93 427.27,432.00" fill="none" stroke="#111" stroke-width="1.3" stroke-linejoin="round"/>
<path d="M389.88,432.00 C391.03,431.82 394.95,431.40 396.80,430.92 C398.65,430.44 399.57,429.52 400.96,429.10 C402.34,428.68 403.73,428.75 405.11,428.40 C406.50,428.05 408.11,427.94 409.27,427.01 C410.42,426.07 411.23,424.67 412.04,422.81 C412.84,420.94 413.42,418.38 414.11,415.82 C414.81,413.25 415.50,409.64 416.19,407.42 C416.88,405.21 417.69,403.11 418.27,402.53 C418.85,401.94 419.08,402.64 419.65,403.93 C420.23,405.21 421.04,407.54 421.73,410.22 C422.42,412.90 423.23,417.21 423.81,420.01 C424.39,422.81 424.62,425.01 425.19,427.01 C425.77,429.00 426.93,431.17 427.27,432.00 L427.27,432.60 L389.88,432.60 Z" fill="#a04862" fill-opacity="0.86" stroke="none"/>
<path d="M387.11,432.00 C387.80,431.75 389.99,431.10 391.26,430.50 C392.53,429.90 393.80,430.62 394.72,428.40 C395.65,426.19 396.11,420.94 396.80,417.21 C397.49,413.48 398.19,409.75 398.88,406.02 C399.57,402.29 400.38,396.47 400.96,394.83 C401.53,393.20 401.88,394.83 402.34,396.23 C402.80,397.63 403.15,400.43 403.73,403.23 C404.30,406.02 405.11,410.45 405.80,413.02 C406.50,415.58 407.30,418.03 407.88,418.61 C408.46,419.20 408.81,416.75 409.27,416.51 C409.73,416.28 410.19,416.40 410.65,417.21 C411.11,418.03 411.58,421.41 412.04,421.41 C412.50,421.41 412.73,419.55 413.42,417.21 C414.11,414.88 415.38,409.99 416.19,407.42 C417.00,404.86 417.69,402.53 418.27,401.83 C418.85,401.13 419.08,401.83 419.65,403.23 C420.23,404.63 421.04,406.96 421.73,410.22 C422.42,413.48 423.12,419.31 423.81,422.81 C424.50,426.31 425.31,429.67 425.89,431.20 C426.46,432.73 427.04,431.87 427.27,432.00" fill="none" stroke="#b81f48" stroke-width="1.3" stroke-linejoin="round"/>
<path d="M389.88,432.00 C391.03,431.82 394.95,431.40 396.80,430.92 C398.65,430.44 399.57,429.52 400.96,429.10 C402.34,428.68 403.73,428.75 405.11,428.40 C406.50,428.05 408.11,427.94 409.27,427.01 C410.42,426.07 411.23,424.67 412.04,422.81 C412.84,420.94 413.42,418.38 414.11,415.82 C414.81,413.25 415.50,409.64 416.19,407.42 C416.88,405.21 417.69,403.11 418.27,402.53 C418.85,401.94 419.08,402.64 419.65,403.93 C420.23,405.21 421.04,407.54 421.73,410.22 C422.42,412.90 423.23,417.21 423.81,420.01 C424.39,422.81 424.62,425.01 425.19,427.01 C425.77,429.00 426.93,431.17 427.27,432.00" fill="none" stroke="#6e0a28" stroke-width="1.3" stroke-linejoin="round"/>
<rect x="379.35" y="367.00" width="65.80" height="65.60" fill="none" stroke="#0a0a0a" stroke-width="1.7" />
<line x1="375.95" y1="368.50" x2="379.35" y2="368.50" stroke="#111" stroke-width="1.0" />
<line x1="375.95" y1="371.70" x2="379.35" y2="371.70" stroke="#111" stroke-width="1.0" />
<line x1="375.95" y1="374.90" x2="379.35" y2="374.90" stroke="#111" stroke-width="1.0" />
<line x1="375.95" y1="378.10" x2="379.35" y2="378.10" stroke="#111" stroke-width="1.0" />
<line x1="375.95" y1="381.30" x2="379.35" y2="381.30" stroke="#111" stroke-width="1.0" />
<line x1="375.95" y1="384.50" x2="379.35" y2="384.50" stroke="#111" stroke-width="1.0" />
<line x1="375.95" y1="387.70" x2="379.35" y2="387.70" stroke="#111" stroke-width="1.0" />
<line x1="375.95" y1="390.90" x2="379.35" y2="390.90" stroke="#111" stroke-width="1.0" />
<line x1="375.95" y1="394.10" x2="379.35" y2="394.10" stroke="#111" stroke-width="1.0" />
<line x1="375.95" y1="397.30" x2="379.35" y2="397.30" stroke="#111" stroke-width="1.0" />
<line x1="375.95" y1="400.50" x2="379.35" y2="400.50" stroke="#111" stroke-width="1.0" />
<line x1="375.95" y1="403.70" x2="379.35" y2="403.70" stroke="#111" stroke-width="1.0" />
<line x1="375.95" y1="406.90" x2="379.35" y2="406.90" stroke="#111" stroke-width="1.0" />
<line x1="375.95" y1="410.10" x2="379.35" y2="410.10" stroke="#111" stroke-width="1.0" />
<line x1="375.95" y1="413.30" x2="379.35" y2="413.30" stroke="#111" stroke-width="1.0" />
<line x1="375.95" y1="416.50" x2="379.35" y2="416.50" stroke="#111" stroke-width="1.0" />
<line x1="375.95" y1="419.70" x2="379.35" y2="419.70" stroke="#111" stroke-width="1.0" />
<line x1="375.95" y1="422.90" x2="379.35" y2="422.90" stroke="#111" stroke-width="1.0" />
<line x1="375.95" y1="426.10" x2="379.35" y2="426.10" stroke="#111" stroke-width="1.0" />
<line x1="375.95" y1="429.30" x2="379.35" y2="429.30" stroke="#111" stroke-width="1.0" />
<line x1="380.84" y1="432.60" x2="380.84" y2="435.00" stroke="#000" stroke-width="1.0" />
<line x1="382.45" y1="432.60" x2="382.45" y2="435.40" stroke="#000" stroke-width="1.0" />
<line x1="383.77" y1="432.60" x2="383.77" y2="435.00" stroke="#000" stroke-width="1.0" />
<line x1="384.88" y1="432.60" x2="384.88" y2="435.00" stroke="#000" stroke-width="1.0" />
<line x1="385.84" y1="432.60" x2="385.84" y2="435.00" stroke="#000" stroke-width="1.0" />
<line x1="386.69" y1="432.60" x2="386.69" y2="435.00" stroke="#000" stroke-width="1.0" />
<line x1="387.45" y1="432.60" x2="387.45" y2="435.40" stroke="#000" stroke-width="1.0" />
<line x1="392.45" y1="432.60" x2="392.45" y2="435.00" stroke="#000" stroke-width="1.0" />
<line x1="395.37" y1="432.60" x2="395.37" y2="435.00" stroke="#000" stroke-width="1.0" />
<line x1="397.44" y1="432.60" x2="397.44" y2="435.00" stroke="#000" stroke-width="1.0" />
<line x1="399.05" y1="432.60" x2="399.05" y2="435.40" stroke="#000" stroke-width="1.0" />
<line x1="400.37" y1="432.60" x2="400.37" y2="435.00" stroke="#000" stroke-width="1.0" />
<line x1="401.48" y1="432.60" x2="401.48" y2="435.00" stroke="#000" stroke-width="1.0" />
<line x1="402.44" y1="432.60" x2="402.44" y2="435.00" stroke="#000" stroke-width="1.0" />
<line x1="403.29" y1="432.60" x2="403.29" y2="435.00" stroke="#000" stroke-width="1.0" />
<line x1="404.65" y1="432.60" x2="404.65" y2="435.40" stroke="#000" stroke-width="1.0" />
<line x1="409.65" y1="432.60" x2="409.65" y2="435.00" stroke="#000" stroke-width="1.0" />
<line x1="412.57" y1="432.60" x2="412.57" y2="435.00" stroke="#000" stroke-width="1.0" />
<line x1="414.64" y1="432.60" x2="414.64" y2="435.00" stroke="#000" stroke-width="1.0" />
<line x1="416.25" y1="432.60" x2="416.25" y2="435.40" stroke="#000" stroke-width="1.0" />
<line x1="417.57" y1="432.60" x2="417.57" y2="435.00" stroke="#000" stroke-width="1.0" />
<line x1="418.68" y1="432.60" x2="418.68" y2="435.00" stroke="#000" stroke-width="1.0" />
<line x1="419.64" y1="432.60" x2="419.64" y2="435.00" stroke="#000" stroke-width="1.0" />
<line x1="420.49" y1="432.60" x2="420.49" y2="435.00" stroke="#000" stroke-width="1.0" />
<line x1="420.95" y1="432.60" x2="420.95" y2="435.40" stroke="#000" stroke-width="1.0" />
<line x1="425.95" y1="432.60" x2="425.95" y2="435.00" stroke="#000" stroke-width="1.0" />
<line x1="428.87" y1="432.60" x2="428.87" y2="435.00" stroke="#000" stroke-width="1.0" />
<line x1="430.94" y1="432.60" x2="430.94" y2="435.00" stroke="#000" stroke-width="1.0" />
<line x1="432.55" y1="432.60" x2="432.55" y2="435.40" stroke="#000" stroke-width="1.0" />
<line x1="433.87" y1="432.60" x2="433.87" y2="435.00" stroke="#000" stroke-width="1.0" />
<line x1="434.98" y1="432.60" x2="434.98" y2="435.00" stroke="#000" stroke-width="1.0" />
<line x1="435.94" y1="432.60" x2="435.94" y2="435.00" stroke="#000" stroke-width="1.0" />
<line x1="436.79" y1="432.60" x2="436.79" y2="435.00" stroke="#000" stroke-width="1.0" />
<line x1="437.35" y1="432.60" x2="437.35" y2="435.40" stroke="#000" stroke-width="1.0" />
<line x1="442.35" y1="432.60" x2="442.35" y2="435.00" stroke="#000" stroke-width="1.0" />
<text x="383.35" y="377.00" font-size="6.4" fill="#3a3a3a" text-anchor="start" textLength="12.0" lengthAdjust="spacingAndGlyphs" stroke="#3a3a3a" stroke-width="0.22" >0.26</text>
<text x="412.25" y="361.20" font-size="9.2" fill="#000" text-anchor="middle" font-weight="bold" textLength="10.3" lengthAdjust="spacingAndGlyphs" stroke="#000" stroke-width="0.15" >X4</text>
<line x1="166.14" y1="351.00" x2="445.15" y2="351.00" stroke="#111" stroke-width="1.5" />
<text x="305.64" y="344.40" font-size="9.2" fill="#000" text-anchor="middle" font-weight="bold" textLength="37.6" lengthAdjust="spacingAndGlyphs" stroke="#000" stroke-width="0.15" >sgTRRAP</text>
<path d="M17.9,396 L17.9,438.8 L59.5,438.8" fill="none" stroke="#111" stroke-width="1.3" stroke-linejoin="round"/>
<path d="M17.9,393.2 L15.7,398.6 L20.1,398.6 Z" fill="#111"/>
<path d="M62.3,438.8 L56.9,436.6 L56.9,441.0 Z" fill="#111"/>
<text x="14.30" y="417.60" font-size="6.8" fill="#444" text-anchor="middle" textLength="34" lengthAdjust="spacingAndGlyphs" transform="rotate(-90 14.30 417.60)" stroke="#444" stroke-width="0.22" >nom. count</text>
<text x="32.70" y="447.80" font-size="6.8" fill="#444" text-anchor="start" textLength="12.5" lengthAdjust="spacingAndGlyphs" stroke="#444" stroke-width="0.22" >p53</text>
<text x="449.00" y="372.50" font-size="6.8" fill="#464246" text-anchor="start" textLength="40" lengthAdjust="spacingAndGlyphs" stroke="#464246" stroke-width="0.22" >untransduced</text>
<text x="449.00" y="381.70" font-size="6.8" fill="#8e3556" text-anchor="start" textLength="33" lengthAdjust="spacingAndGlyphs" stroke="#8e3556" stroke-width="0.22" >transduced</text>
<text x="449.60" y="432.30" font-size="6.4" fill="#000" text-anchor="start" font-weight="bold" textLength="45" lengthAdjust="spacingAndGlyphs" stroke="#000" stroke-width="0.15" >Namalwa-Cas9</text>
<text x="7.80" y="475.70" font-size="12" fill="#000" text-anchor="start" font-weight="bold" textLength="8.1" lengthAdjust="spacingAndGlyphs" stroke="#000" stroke-width="0.45" >D</text>
<rect x="44.90" y="482.20" width="53.60" height="16.40" fill="#cbcbcb" stroke="none" stroke-width="1" />
<rect x="48.10" y="555.80" width="7.40" height="1.00" fill="#5b5b5b" stroke="none" stroke-width="1" />
<rect x="58.15" y="555.80" width="7.40" height="1.00" fill="#b2b2b2" stroke="none" stroke-width="1" />
<rect x="68.20" y="539.53" width="7.40" height="16.77" fill="#2e4e8c" stroke="none" stroke-width="1" />
<rect x="78.25" y="530.03" width="7.40" height="26.27" fill="#8a1b32" stroke="none" stroke-width="1" />
<rect x="88.30" y="543.32" width="7.40" height="12.98" fill="#c2143a" stroke="none" stroke-width="1" />
<rect x="44.90" y="482.20" width="53.60" height="80.80" fill="none" stroke="#000" stroke-width="1.4" />
<line x1="44.90" y1="498.60" x2="98.50" y2="498.60" stroke="#000" stroke-width="1.3" />
<text x="71.70" y="489.00" font-size="6.4" fill="#222" text-anchor="middle" stroke="#222" stroke-width="0.22" >Raji-Cas9</text>
<text x="71.70" y="496.40" font-size="6.4" fill="#222" text-anchor="middle" stroke="#222" stroke-width="0.22" >(R213Q/Y234H)</text>
<rect x="100.20" y="482.20" width="53.50" height="16.40" fill="#cbcbcb" stroke="none" stroke-width="1" />
<rect x="103.40" y="555.80" width="7.40" height="1.00" fill="#b2b2b2" stroke="none" stroke-width="1" />
<rect x="113.45" y="555.80" width="7.40" height="1.00" fill="#b2b2b2" stroke="none" stroke-width="1" />
<rect x="123.50" y="537.31" width="7.40" height="18.99" fill="#2e4e8c" stroke="none" stroke-width="1" />
<rect x="133.55" y="533.83" width="7.40" height="22.47" fill="#8a1b32" stroke="none" stroke-width="1" />
<rect x="143.60" y="539.84" width="7.40" height="16.46" fill="#c2143a" stroke="none" stroke-width="1" />
<rect x="100.20" y="482.20" width="53.50" height="80.80" fill="none" stroke="#000" stroke-width="1.4" />
<line x1="100.20" y1="498.60" x2="153.70" y2="498.60" stroke="#000" stroke-width="1.3" />
<text x="126.95" y="489.00" font-size="6.4" fill="#222" text-anchor="middle" stroke="#222" stroke-width="0.22" >Ramos-Cas9</text>
<text x="126.95" y="496.40" font-size="6.4" fill="#222" text-anchor="middle" stroke="#222" stroke-width="0.22" >(I254D)</text>
<rect x="155.30" y="482.20" width="52.90" height="16.40" fill="#cbcbcb" stroke="none" stroke-width="1" />
<rect x="158.50" y="554.08" width="7.40" height="2.22" fill="#5b5b5b" stroke="none" stroke-width="1" />
<rect x="168.55" y="555.03" width="7.40" height="1.27" fill="#b2b2b2" stroke="none" stroke-width="1" />
<rect x="178.60" y="543.32" width="7.40" height="12.98" fill="#2e4e8c" stroke="none" stroke-width="1" />
<rect x="188.65" y="537.31" width="7.40" height="18.99" fill="#8a1b32" stroke="none" stroke-width="1" />
<rect x="198.70" y="542.37" width="7.40" height="13.93" fill="#c2143a" stroke="none" stroke-width="1" />
<rect x="155.30" y="482.20" width="52.90" height="80.80" fill="none" stroke="#000" stroke-width="1.4" />
<line x1="155.30" y1="498.60" x2="208.20" y2="498.60" stroke="#000" stroke-width="1.3" />
<text x="181.75" y="489.00" font-size="6.4" fill="#222" text-anchor="middle" stroke="#222" stroke-width="0.22" >BL−60-Cas9</text>
<text x="181.75" y="496.40" font-size="6.4" fill="#222" text-anchor="middle" stroke="#222" stroke-width="0.22" >(R248W)</text>
<line x1="162.20" y1="563.00" x2="162.20" y2="566.00" stroke="#111" stroke-width="1.0" />
<line x1="172.25" y1="563.00" x2="172.25" y2="566.00" stroke="#111" stroke-width="1.0" />
<line x1="182.30" y1="563.00" x2="182.30" y2="566.00" stroke="#111" stroke-width="1.0" />
<line x1="192.35" y1="563.00" x2="192.35" y2="566.00" stroke="#111" stroke-width="1.0" />
<line x1="202.40" y1="563.00" x2="202.40" y2="566.00" stroke="#111" stroke-width="1.0" />
<rect x="44.90" y="565.60" width="53.60" height="16.70" fill="#cbcbcb" stroke="none" stroke-width="1" />
<rect x="48.10" y="639.80" width="7.40" height="1.00" fill="#8a8a8a" stroke="none" stroke-width="1" />
<rect x="58.15" y="640.30" width="7.40" height="3.50" fill="#b2b2b2" stroke="none" stroke-width="1" />
<rect x="68.20" y="616.77" width="7.40" height="23.53" fill="#2e4e8c" stroke="none" stroke-width="1" />
<rect x="78.25" y="611.04" width="7.40" height="29.26" fill="#8a1b32" stroke="none" stroke-width="1" />
<rect x="88.30" y="620.58" width="7.40" height="19.72" fill="#c2143a" stroke="none" stroke-width="1" />
<rect x="44.90" y="565.60" width="53.60" height="81.40" fill="none" stroke="#000" stroke-width="1.4" />
<line x1="44.90" y1="582.30" x2="98.50" y2="582.30" stroke="#000" stroke-width="1.3" />
<text x="71.70" y="572.40" font-size="6.4" fill="#222" text-anchor="middle" stroke="#222" stroke-width="0.22" >BJAB-Cas9</text>
<text x="71.70" y="579.80" font-size="6.4" fill="#222" text-anchor="middle" stroke="#222" stroke-width="0.22" >(H193R)</text>
<line x1="51.80" y1="647.00" x2="51.80" y2="650.00" stroke="#111" stroke-width="1.0" />
<line x1="61.85" y1="647.00" x2="61.85" y2="650.00" stroke="#111" stroke-width="1.0" />
<line x1="71.90" y1="647.00" x2="71.90" y2="650.00" stroke="#111" stroke-width="1.0" />
<line x1="81.95" y1="647.00" x2="81.95" y2="650.00" stroke="#111" stroke-width="1.0" />
<line x1="92.00" y1="647.00" x2="92.00" y2="650.00" stroke="#111" stroke-width="1.0" />
<rect x="100.20" y="565.60" width="53.50" height="16.70" fill="#cbcbcb" stroke="none" stroke-width="1" />
<rect x="103.40" y="639.03" width="7.40" height="1.27" fill="#9a9a9a" stroke="none" stroke-width="1" />
<rect x="113.45" y="639.80" width="7.40" height="1.00" fill="#b2b2b2" stroke="none" stroke-width="1" />
<rect x="123.50" y="614.22" width="7.40" height="26.08" fill="#2e4e8c" stroke="none" stroke-width="1" />
<rect x="133.55" y="585.60" width="7.40" height="54.70" fill="#8a1b32" stroke="none" stroke-width="1" />
<rect x="143.60" y="615.81" width="7.40" height="24.49" fill="#c2143a" stroke="none" stroke-width="1" />
<rect x="100.20" y="565.60" width="53.50" height="81.40" fill="none" stroke="#000" stroke-width="1.4" />
<line x1="100.20" y1="582.30" x2="153.70" y2="582.30" stroke="#000" stroke-width="1.3" />
<text x="126.95" y="572.40" font-size="6.4" fill="#222" text-anchor="middle" stroke="#222" stroke-width="0.22" >LY−47-Cas9</text>
<text x="126.95" y="579.80" font-size="6.4" fill="#222" text-anchor="middle" stroke="#222" stroke-width="0.22" >(wt)</text>
<line x1="107.10" y1="647.00" x2="107.10" y2="650.00" stroke="#111" stroke-width="1.0" />
<line x1="117.15" y1="647.00" x2="117.15" y2="650.00" stroke="#111" stroke-width="1.0" />
<line x1="127.20" y1="647.00" x2="127.20" y2="650.00" stroke="#111" stroke-width="1.0" />
<line x1="137.25" y1="647.00" x2="137.25" y2="650.00" stroke="#111" stroke-width="1.0" />
<line x1="147.30" y1="647.00" x2="147.30" y2="650.00" stroke="#111" stroke-width="1.0" />
<line x1="42.00" y1="556.30" x2="44.90" y2="556.30" stroke="#111" stroke-width="1.0" />
<text x="38.90" y="558.50" font-size="6.3" fill="#1e1e1e" text-anchor="end" stroke="#1e1e1e" stroke-width="0.22" >0.0</text>
<line x1="42.00" y1="540.47" x2="44.90" y2="540.47" stroke="#111" stroke-width="1.0" />
<text x="38.90" y="542.67" font-size="6.3" fill="#1e1e1e" text-anchor="end" stroke="#1e1e1e" stroke-width="0.22" >2.5</text>
<line x1="42.00" y1="524.65" x2="44.90" y2="524.65" stroke="#111" stroke-width="1.0" />
<text x="38.90" y="526.85" font-size="6.3" fill="#1e1e1e" text-anchor="end" stroke="#1e1e1e" stroke-width="0.22" >5.0</text>
<line x1="42.00" y1="508.82" x2="44.90" y2="508.82" stroke="#111" stroke-width="1.0" />
<text x="38.90" y="511.02" font-size="6.3" fill="#1e1e1e" text-anchor="end" stroke="#1e1e1e" stroke-width="0.22" >7.5</text>
<line x1="42.00" y1="640.30" x2="44.90" y2="640.30" stroke="#111" stroke-width="1.0" />
<text x="38.90" y="642.50" font-size="6.3" fill="#1e1e1e" text-anchor="end" stroke="#1e1e1e" stroke-width="0.22" >0.0</text>
<line x1="42.00" y1="624.40" x2="44.90" y2="624.40" stroke="#111" stroke-width="1.0" />
<text x="38.90" y="626.60" font-size="6.3" fill="#1e1e1e" text-anchor="end" stroke="#1e1e1e" stroke-width="0.22" >2.5</text>
<line x1="42.00" y1="608.50" x2="44.90" y2="608.50" stroke="#111" stroke-width="1.0" />
<text x="38.90" y="610.70" font-size="6.3" fill="#1e1e1e" text-anchor="end" stroke="#1e1e1e" stroke-width="0.22" >5.0</text>
<line x1="42.00" y1="592.60" x2="44.90" y2="592.60" stroke="#111" stroke-width="1.0" />
<text x="38.90" y="594.80" font-size="6.3" fill="#1e1e1e" text-anchor="end" stroke="#1e1e1e" stroke-width="0.22" >7.5</text>
<text x="15.40" y="565.50" font-size="7.0" fill="#1e1e1e" text-anchor="middle" textLength="59.5" lengthAdjust="spacingAndGlyphs" transform="rotate(-90 15.40 565.50)" stroke="#1e1e1e" stroke-width="0.22" >log2 fold depletion</text>
<text x="24.70" y="564.80" font-size="7.0" fill="#1e1e1e" text-anchor="middle" textLength="76" lengthAdjust="spacingAndGlyphs" transform="rotate(-90 24.70 564.80)" stroke="#1e1e1e" stroke-width="0.22" >sgRNA−transduced cells</text>
<text x="126.50" y="658.50" font-size="7.0" fill="#1e1e1e" text-anchor="middle" textLength="20" lengthAdjust="spacingAndGlyphs" stroke="#1e1e1e" stroke-width="0.22" >sgRNA</text>
<text x="212.40" y="504.80" font-size="6.8" fill="#1e1e1e" text-anchor="start" textLength="20" lengthAdjust="spacingAndGlyphs" stroke="#1e1e1e" stroke-width="0.22" >sgRNA</text>
<rect x="212.20" y="507.70" width="7.00" height="6.60" fill="#5b5b5b" stroke="none" stroke-width="1" />
<text x="222.30" y="513.40" font-size="6.8" fill="#1e1e1e" text-anchor="start" textLength="19.6" lengthAdjust="spacingAndGlyphs" stroke="#1e1e1e" stroke-width="0.22" >sgGFP</text>
<rect x="212.20" y="517.75" width="7.00" height="6.60" fill="#b2b2b2" stroke="none" stroke-width="1" />
<text x="222.30" y="523.45" font-size="6.8" fill="#1e1e1e" text-anchor="start" textLength="31.7" lengthAdjust="spacingAndGlyphs" stroke="#1e1e1e" stroke-width="0.22" >sgmCherry</text>
<rect x="212.20" y="527.80" width="7.00" height="6.60" fill="#2e4e8c" stroke="none" stroke-width="1" />
<text x="222.30" y="533.50" font-size="6.8" fill="#1e1e1e" text-anchor="start" textLength="20.8" lengthAdjust="spacingAndGlyphs" stroke="#1e1e1e" stroke-width="0.22" >sgPLK1</text>
<rect x="212.20" y="537.85" width="7.00" height="6.60" fill="#8a1b32" stroke="none" stroke-width="1" />
<text x="222.30" y="543.55" font-size="6.8" fill="#1e1e1e" text-anchor="start" textLength="36.9" lengthAdjust="spacingAndGlyphs" stroke="#1e1e1e" stroke-width="0.22" >sgTRRAP_X1</text>
<rect x="212.20" y="547.90" width="7.00" height="6.60" fill="#c2143a" stroke="none" stroke-width="1" />
<text x="222.30" y="553.60" font-size="6.8" fill="#1e1e1e" text-anchor="start" textLength="37.5" lengthAdjust="spacingAndGlyphs" stroke="#1e1e1e" stroke-width="0.22" >sgTRRAP_X2</text>
<text x="278.90" y="475.80" font-size="12" fill="#000" text-anchor="start" font-weight="bold" textLength="6.0" lengthAdjust="spacingAndGlyphs" stroke="#000" stroke-width="0.45" >E</text>
<line x1="306.60" y1="482.30" x2="306.60" y2="638.80" stroke="#000" stroke-width="1.3" />
<line x1="299.00" y1="614.80" x2="472.50" y2="614.80" stroke="#000" stroke-width="1.3" />
<line x1="322.30" y1="629.60" x2="463.90" y2="503.40" stroke="#1f3560" stroke-width="1.4" />
<circle cx="411.20" cy="489.50" r="2.0" fill="#e8c12e"/>
<circle cx="438.50" cy="492.10" r="2.0" fill="#8b1538"/>
<circle cx="444.40" cy="509.90" r="2.0" fill="#8b1538"/>
<circle cx="463.90" cy="516.90" r="2.0" fill="#8b1538"/>
<circle cx="414.10" cy="517.20" r="2.0" fill="#6a9e3e"/>
<circle cx="381.40" cy="539.70" r="2.0" fill="#2a2a33"/>
<circle cx="409.80" cy="537.60" r="2.0" fill="#e8c12e"/>
<circle cx="420.70" cy="540.90" r="2.0" fill="#d9a04a"/>
<circle cx="392.50" cy="549.70" r="2.0" fill="#e8c12e"/>
<circle cx="380.00" cy="552.70" r="2.0" fill="#7fb0de"/>
<circle cx="448.70" cy="563.10" r="2.0" fill="#8b1538"/>
<circle cx="414.10" cy="566.00" r="2.0" fill="#2a2a33"/>
<circle cx="387.80" cy="570.90" r="2.0" fill="#6a9e3e"/>
<circle cx="369.80" cy="549.00" r="2.0" fill="#3d2a6e"/>
<circle cx="359.90" cy="572.00" r="2.0" fill="#e8c12e"/>
<circle cx="366.00" cy="568.60" r="2.0" fill="#2a2a33"/>
<circle cx="361.60" cy="574.60" r="2.0" fill="#0a0a0a"/>
<circle cx="363.40" cy="577.20" r="2.0" fill="#e8c12e"/>
<circle cx="364.20" cy="580.20" r="2.0" fill="#e8c12e"/>
<circle cx="360.80" cy="583.80" r="2.0" fill="#6a9e3e"/>
<circle cx="381.20" cy="572.30" r="2.0" fill="#7fb0de"/>
<circle cx="395.10" cy="573.20" r="2.0" fill="#2a2a33"/>
<circle cx="385.20" cy="579.60" r="2.0" fill="#e8c12e"/>
<circle cx="387.80" cy="578.40" r="2.0" fill="#2a2a33"/>
<circle cx="345.70" cy="591.00" r="2.0" fill="#2a2a33"/>
<circle cx="350.40" cy="597.50" r="2.0" fill="#e8c12e"/>
<circle cx="359.00" cy="598.30" r="2.0" fill="#a39ad0"/>
<circle cx="340.30" cy="602.30" r="2.0" fill="#6a9e3e"/>
<circle cx="345.70" cy="602.30" r="2.0" fill="#7fb0de"/>
<circle cx="350.40" cy="602.70" r="2.0" fill="#7fb0de"/>
<circle cx="375.80" cy="604.90" r="2.0" fill="#d9a04a"/>
<circle cx="335.20" cy="609.70" r="2.0" fill="#a39ad0"/>
<circle cx="354.70" cy="608.00" r="2.0" fill="#2a2a33"/>
<circle cx="352.30" cy="610.80" r="2.0" fill="#d9a04a"/>
<circle cx="353.60" cy="609.60" r="2.0" fill="#0a0a0a"/>
<circle cx="366.00" cy="609.60" r="2.0" fill="#2a2a33"/>
<circle cx="372.10" cy="613.40" r="2.0" fill="#2a2a33"/>
<circle cx="340.00" cy="613.60" r="2.0" fill="#2a2a33"/>
<circle cx="389.00" cy="606.40" r="2.0" fill="#2a2a33"/>
<circle cx="381.20" cy="614.70" r="2.0" fill="#7fb0de"/>
<circle cx="384.40" cy="619.60" r="2.0" fill="#2a2a33"/>
<circle cx="346.90" cy="617.40" r="2.0" fill="#2a2a33"/>
<circle cx="358.70" cy="617.90" r="2.0" fill="#2a2a33"/>
<circle cx="364.20" cy="617.90" r="2.0" fill="#0a0a0a"/>
<circle cx="328.70" cy="618.20" r="2.0" fill="#2a2a33"/>
<circle cx="325.30" cy="620.50" r="2.0" fill="#a39ad0"/>
<circle cx="322.30" cy="622.20" r="2.0" fill="#7fb0de"/>
<circle cx="341.70" cy="621.00" r="2.0" fill="#7fb0de"/>
<circle cx="344.00" cy="622.70" r="2.0" fill="#2a2a33"/>
<circle cx="345.20" cy="624.00" r="2.0" fill="#2a2a33"/>
<circle cx="324.40" cy="627.90" r="2.0" fill="#2a2a33"/>
<circle cx="371.50" cy="629.60" r="2.0" fill="#7fb0de"/>
<circle cx="323.50" cy="630.50" r="2.0" fill="#7fb0de"/>
<path d="M322.3,629.6 L463.9,503.4" stroke="#1f3560" stroke-width="1.3" fill="none" opacity="0.85"/>
<rect x="299.00" y="482.30" width="173.50" height="156.50" fill="none" stroke="#000" stroke-width="1.4" />
<line x1="296.00" y1="614.80" x2="299.00" y2="614.80" stroke="#111" stroke-width="1.0" />
<text x="292.60" y="617.00" font-size="6.3" fill="#1e1e1e" text-anchor="end" stroke="#1e1e1e" stroke-width="0.22" >1</text>
<line x1="296.00" y1="561.40" x2="299.00" y2="561.40" stroke="#111" stroke-width="1.0" />
<text x="292.60" y="563.60" font-size="6.3" fill="#1e1e1e" text-anchor="end" stroke="#1e1e1e" stroke-width="0.22" >2</text>
<line x1="296.00" y1="508.00" x2="299.00" y2="508.00" stroke="#111" stroke-width="1.0" />
<text x="292.60" y="510.20" font-size="6.3" fill="#1e1e1e" text-anchor="end" stroke="#1e1e1e" stroke-width="0.22" >4</text>
<line x1="342.50" y1="638.80" x2="342.50" y2="641.80" stroke="#111" stroke-width="1.0" />
<text x="342.50" y="651.00" font-size="6.4" fill="#1e1e1e" text-anchor="middle" stroke="#1e1e1e" stroke-width="0.22" >2</text>
<line x1="414.50" y1="638.80" x2="414.50" y2="641.80" stroke="#111" stroke-width="1.0" />
<text x="414.50" y="651.00" font-size="6.4" fill="#1e1e1e" text-anchor="middle" stroke="#1e1e1e" stroke-width="0.22" >8</text>
<text x="284.30" y="560.20" font-size="7.0" fill="#1e1e1e" text-anchor="middle" textLength="87" lengthAdjust="spacingAndGlyphs" transform="rotate(-90 284.30 560.20)" stroke="#1e1e1e" stroke-width="0.22" >Fold depletion mutp53 level</text>
<text x="385.40" y="663.40" font-size="7.5" fill="#1e1e1e" text-anchor="middle" textLength="121.6" lengthAdjust="spacingAndGlyphs" stroke="#1e1e1e" stroke-width="0.22" >Fold depletion sgRNA−transduced cells</text>
<text x="311.40" y="492.80" font-size="6.6" fill="#222" text-anchor="start" textLength="23" lengthAdjust="spacingAndGlyphs" stroke="#222" stroke-width="0.22" ><tspan font-style="italic">r</tspan> = 0.73</text>
<text x="311.40" y="502.40" font-size="6.6" fill="#222" text-anchor="start" textLength="40.5" lengthAdjust="spacingAndGlyphs" stroke="#222" stroke-width="0.22" ><tspan font-style="italic">P</tspan> = 2.50 × 10</text>
<text x="352.60" y="498.20" font-size="3.2" fill="#666" text-anchor="start" stroke="#666" stroke-width="0.22" >−10</text>
<text x="478.80" y="529.80" font-size="6.8" fill="#1e1e1e" text-anchor="start" textLength="21.5" lengthAdjust="spacingAndGlyphs" stroke="#1e1e1e" stroke-width="0.22" >domain</text>
<circle cx="482.00" cy="535.50" r="1.9" fill="#a39ad0"/>
<text x="486.80" y="537.80" font-size="6.6" fill="#1e1e1e" text-anchor="start" stroke="#1e1e1e" stroke-width="0.22" >C−Clasp</text>
<circle cx="482.00" cy="542.59" r="1.9" fill="#6a9e3e"/>
<text x="486.80" y="544.89" font-size="6.6" fill="#1e1e1e" text-anchor="start" stroke="#1e1e1e" stroke-width="0.22" >FAT</text>
<circle cx="482.00" cy="549.68" r="1.9" fill="#0a0a0a"/>
<text x="486.80" y="551.98" font-size="6.6" fill="#1e1e1e" text-anchor="start" stroke="#1e1e1e" stroke-width="0.22" >FATC</text>
<circle cx="482.00" cy="556.77" r="1.9" fill="#7fb0de"/>
<text x="486.80" y="559.07" font-size="6.6" fill="#1e1e1e" text-anchor="start" stroke="#1e1e1e" stroke-width="0.22" >Finger</text>
<circle cx="482.00" cy="563.86" r="1.9" fill="#d9a04a"/>
<text x="486.80" y="566.16" font-size="6.6" fill="#1e1e1e" text-anchor="start" stroke="#1e1e1e" stroke-width="0.22" >FRB</text>
<circle cx="482.00" cy="570.95" r="1.9" fill="#3d2a6e"/>
<text x="486.80" y="573.25" font-size="6.6" fill="#1e1e1e" text-anchor="start" stroke="#1e1e1e" stroke-width="0.22" >N−Clasp</text>
<circle cx="482.00" cy="578.04" r="1.9" fill="#e8c12e"/>
<text x="486.80" y="580.34" font-size="6.6" fill="#1e1e1e" text-anchor="start" stroke="#1e1e1e" stroke-width="0.22" >PI3K</text>
<circle cx="482.00" cy="585.13" r="1.9" fill="#2a2a33"/>
<text x="486.80" y="587.43" font-size="6.6" fill="#1e1e1e" text-anchor="start" stroke="#1e1e1e" stroke-width="0.22" >Ring</text>
<circle cx="482.00" cy="592.22" r="1.9" fill="#8b1538"/>
<text x="486.80" y="594.52" font-size="6.6" fill="#1e1e1e" text-anchor="start" stroke="#1e1e1e" stroke-width="0.22" >X</text>
<rect x="0.75" y="0.75" width="518.5" height="671.5" fill="none" stroke="#000" stroke-width="1.5"/>
</svg>
</body></html>
